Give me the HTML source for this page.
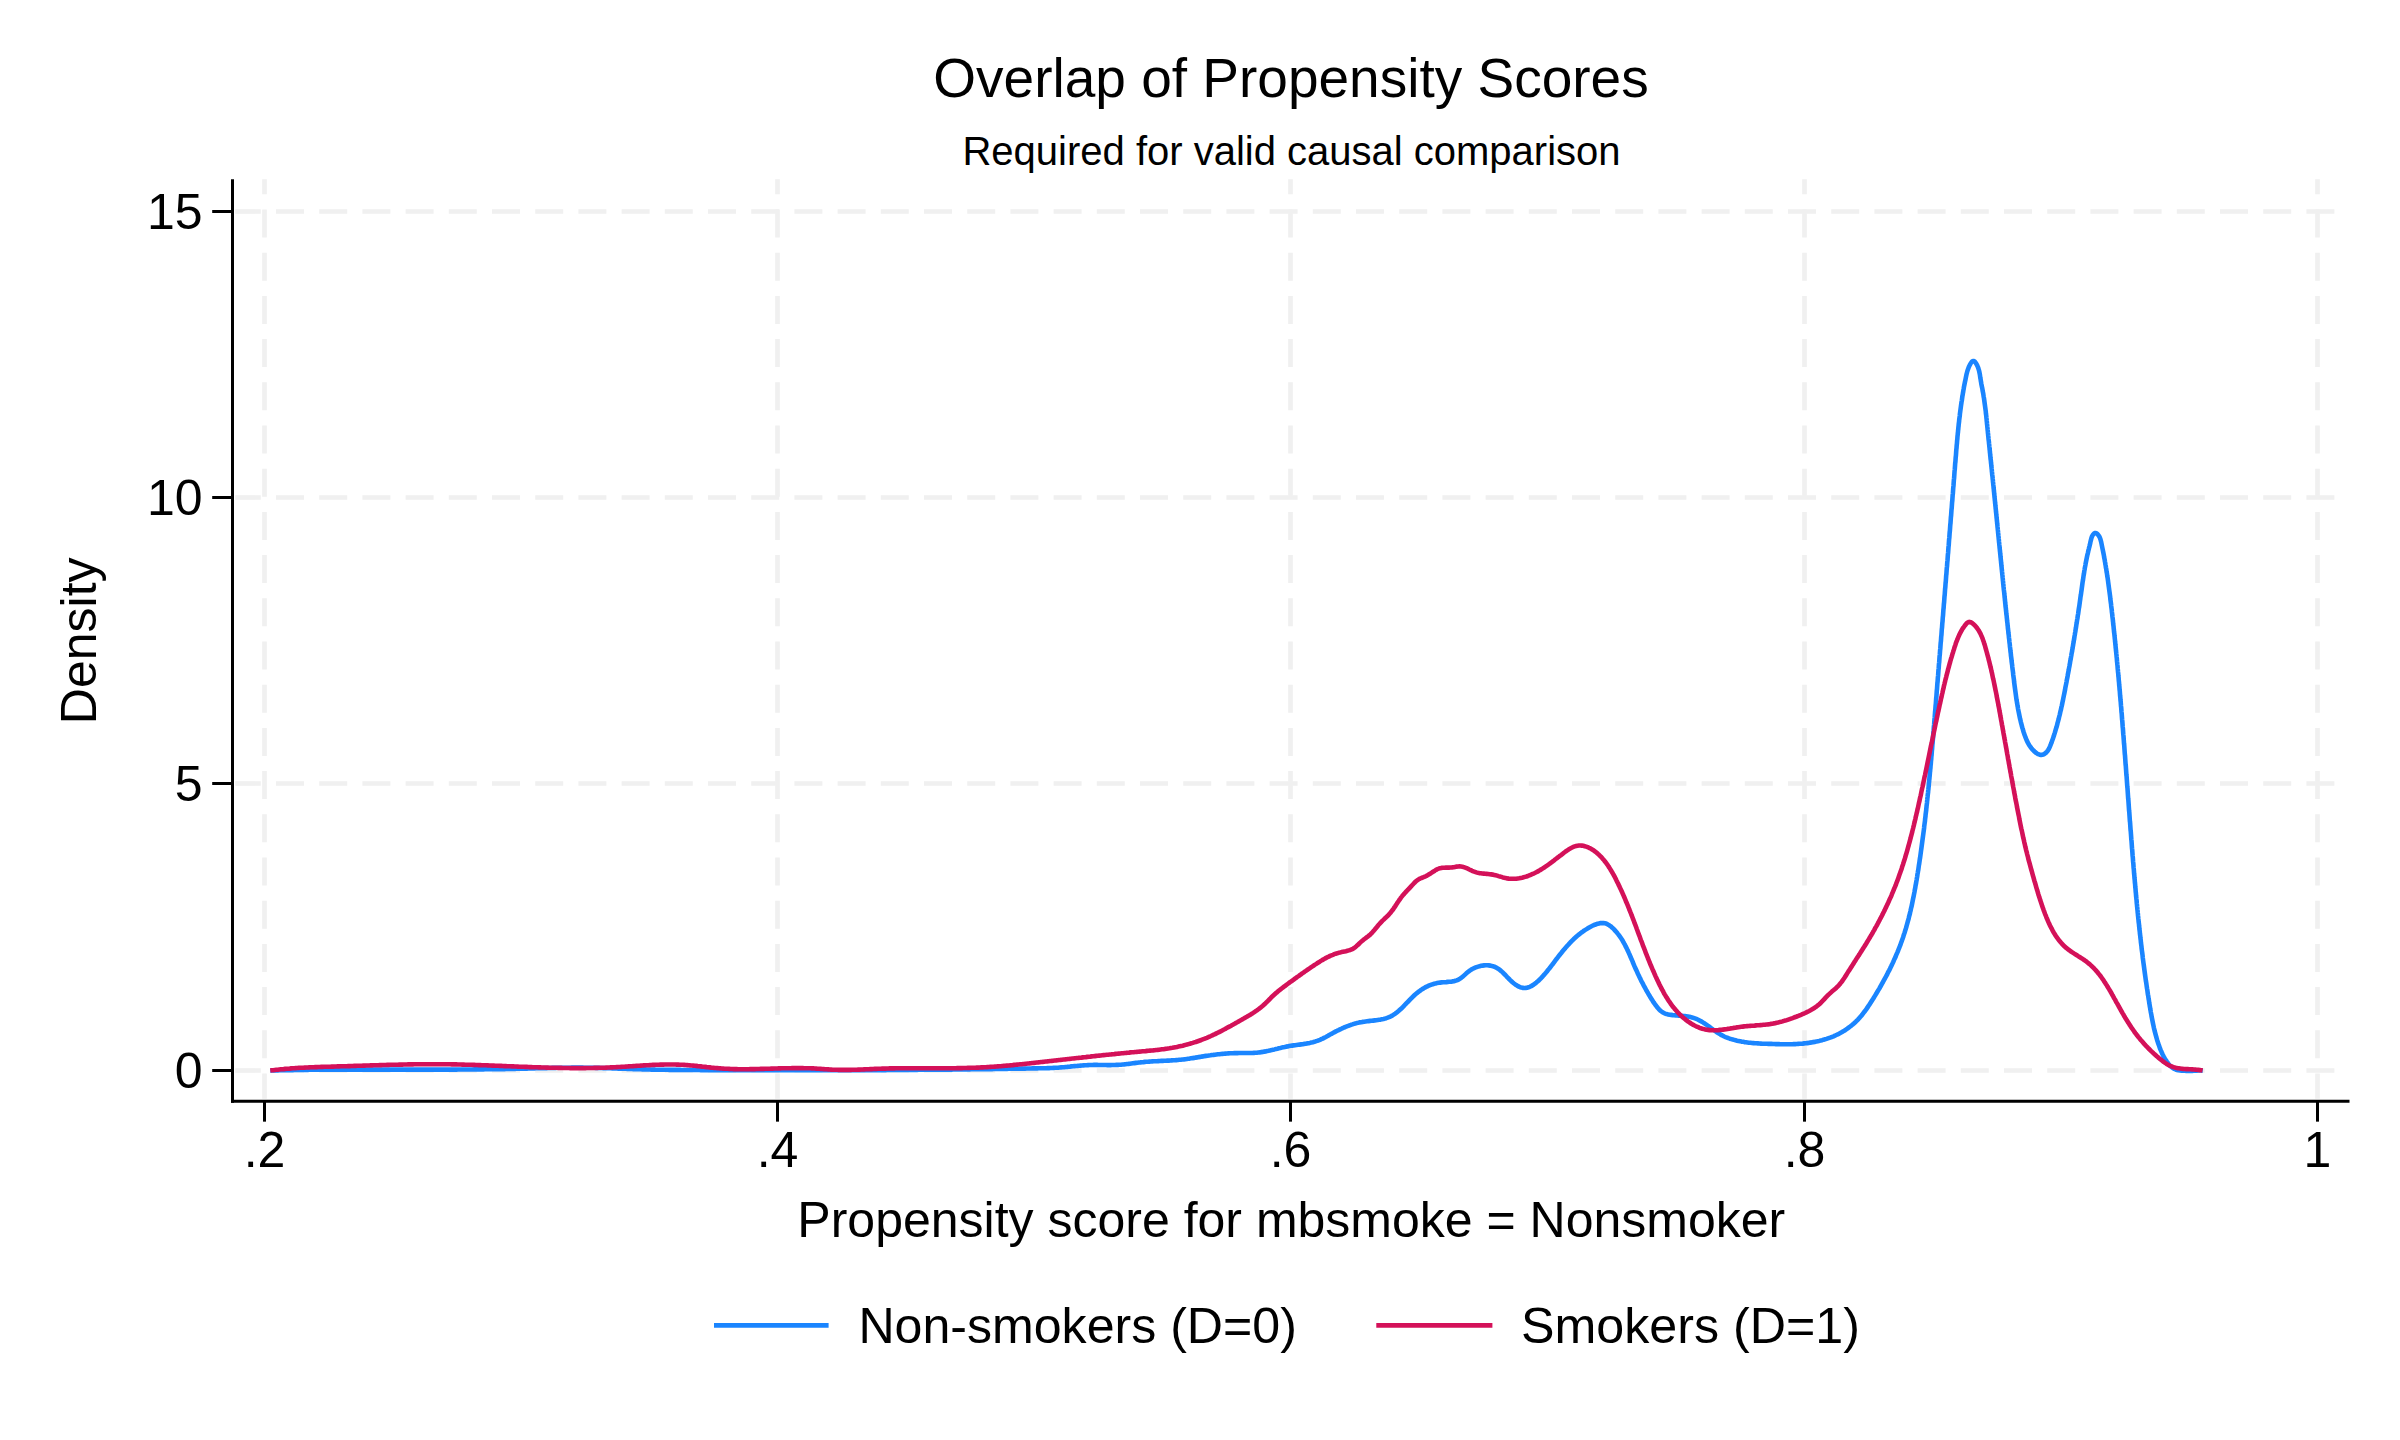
<!DOCTYPE html>
<html lang="en"><head><meta charset="utf-8"><title>Overlap of Propensity Scores</title>
<style>html,body{margin:0;padding:0;background:#fff}svg{display:block}text{font-family:"Liberation Sans",Arial,Helvetica,sans-serif;fill:#000}</style></head><body>
<svg width="2400" height="1440" viewBox="0 0 2400 1440">
<rect width="2400" height="1440" fill="#fff"/>
<g stroke="#f0f0f0" stroke-width="4.7" stroke-dasharray="28 15.2" fill="none">
<path d="M235.2 1070.5 H2349.5" stroke-dashoffset="2.4"/>
<path d="M235.2 783.5 H2349.5" stroke-dashoffset="2.4"/>
<path d="M235.2 497.5 H2349.5" stroke-dashoffset="2.4"/>
<path d="M235.2 211.5 H2349.5" stroke-dashoffset="2.4"/>
<path d="M264.5 1098.8 V179.3" stroke-dashoffset="2.7"/>
<path d="M777.5 1098.8 V179.3" stroke-dashoffset="2.7"/>
<path d="M1290.5 1098.8 V179.3" stroke-dashoffset="2.7"/>
<path d="M1804.5 1098.8 V179.3" stroke-dashoffset="2.7"/>
<path d="M2317.5 1098.8 V179.3" stroke-dashoffset="2.7"/>
</g>
<path d="M270.3 1070.5 L271.8 1070.5 L273.3 1070.5 L274.8 1070.4 L276.3 1070.4 L277.8 1070.4 L279.3 1070.3 L280.8 1070.3 L282.3 1070.3 L283.8 1070.2 L285.3 1070.2 L286.8 1070.2 L288.3 1070.1 L289.8 1070.1 L291.3 1070.1 L292.8 1070.1 L294.3 1070.0 L295.8 1070.0 L297.3 1070.0 L298.8 1070.0 L300.3 1070.0 L301.8 1069.9 L303.3 1069.9 L304.8 1069.9 L306.3 1069.9 L307.8 1069.9 L309.3 1069.8 L310.8 1069.8 L312.3 1069.8 L313.8 1069.8 L315.3 1069.8 L316.8 1069.8 L318.3 1069.8 L319.8 1069.7 L321.3 1069.7 L322.8 1069.7 L324.3 1069.7 L325.8 1069.7 L327.3 1069.7 L328.8 1069.7 L330.3 1069.7 L331.8 1069.7 L333.3 1069.6 L334.8 1069.6 L336.3 1069.6 L337.8 1069.6 L339.3 1069.6 L340.8 1069.6 L342.3 1069.6 L343.8 1069.6 L345.3 1069.6 L346.8 1069.6 L348.3 1069.6 L349.8 1069.6 L351.3 1069.6 L352.8 1069.6 L354.3 1069.6 L355.8 1069.6 L357.3 1069.6 L358.8 1069.6 L360.3 1069.6 L361.8 1069.6 L363.3 1069.6 L364.8 1069.6 L366.3 1069.6 L367.8 1069.6 L369.3 1069.6 L370.8 1069.6 L372.3 1069.6 L373.8 1069.6 L375.3 1069.6 L376.8 1069.6 L378.3 1069.6 L379.8 1069.6 L381.3 1069.6 L382.8 1069.6 L384.4 1069.6 L385.9 1069.6 L387.4 1069.6 L388.9 1069.6 L390.4 1069.6 L391.9 1069.6 L393.4 1069.6 L394.9 1069.6 L396.4 1069.6 L397.9 1069.6 L399.4 1069.6 L400.9 1069.6 L402.4 1069.6 L403.9 1069.6 L405.4 1069.6 L406.9 1069.6 L408.4 1069.6 L409.9 1069.6 L411.4 1069.6 L412.9 1069.6 L414.4 1069.6 L415.9 1069.6 L417.4 1069.6 L418.9 1069.6 L420.4 1069.6 L421.9 1069.6 L423.4 1069.6 L424.9 1069.6 L426.4 1069.6 L427.9 1069.6 L429.4 1069.6 L430.9 1069.6 L432.4 1069.6 L433.9 1069.6 L435.4 1069.6 L436.9 1069.6 L438.4 1069.6 L439.9 1069.6 L441.4 1069.6 L442.9 1069.6 L444.4 1069.6 L445.9 1069.6 L447.4 1069.6 L448.9 1069.6 L450.4 1069.6 L451.9 1069.6 L453.4 1069.6 L454.9 1069.6 L456.4 1069.6 L457.9 1069.5 L459.4 1069.5 L460.9 1069.5 L462.4 1069.5 L463.9 1069.5 L465.4 1069.5 L466.9 1069.5 L468.4 1069.5 L469.9 1069.5 L471.4 1069.5 L472.9 1069.5 L474.4 1069.4 L475.9 1069.4 L477.4 1069.4 L478.9 1069.4 L480.4 1069.4 L481.9 1069.4 L483.4 1069.4 L484.9 1069.3 L486.4 1069.3 L487.9 1069.3 L489.4 1069.3 L490.9 1069.3 L492.4 1069.2 L493.9 1069.2 L495.4 1069.2 L496.9 1069.2 L498.4 1069.2 L499.9 1069.1 L501.4 1069.1 L502.9 1069.1 L504.4 1069.1 L505.9 1069.0 L507.4 1069.0 L508.9 1069.0 L510.4 1068.9 L511.9 1068.9 L513.4 1068.9 L514.9 1068.9 L516.4 1068.8 L517.9 1068.8 L519.4 1068.8 L520.9 1068.7 L522.4 1068.7 L523.9 1068.6 L525.4 1068.6 L526.9 1068.6 L528.4 1068.5 L529.9 1068.5 L531.4 1068.5 L532.9 1068.4 L534.4 1068.4 L535.9 1068.3 L537.4 1068.3 L538.9 1068.3 L540.4 1068.2 L541.9 1068.2 L543.4 1068.1 L544.9 1068.1 L546.4 1068.1 L547.9 1068.0 L549.4 1068.0 L550.9 1068.0 L552.4 1067.9 L553.9 1067.9 L555.4 1067.9 L556.9 1067.8 L558.4 1067.8 L559.9 1067.8 L561.4 1067.8 L562.9 1067.7 L564.4 1067.7 L565.9 1067.7 L567.4 1067.7 L568.9 1067.7 L570.4 1067.7 L571.9 1067.6 L573.4 1067.6 L574.9 1067.6 L576.4 1067.6 L577.9 1067.6 L579.4 1067.6 L580.9 1067.6 L582.4 1067.6 L583.9 1067.7 L585.4 1067.7 L586.9 1067.7 L588.4 1067.7 L589.9 1067.7 L591.4 1067.8 L592.9 1067.8 L594.4 1067.8 L595.9 1067.9 L597.4 1067.9 L598.9 1067.9 L600.4 1068.0 L601.9 1068.0 L603.4 1068.1 L604.9 1068.1 L606.4 1068.2 L607.9 1068.2 L609.4 1068.3 L610.9 1068.3 L612.4 1068.4 L613.9 1068.4 L615.4 1068.5 L616.9 1068.5 L618.4 1068.6 L619.9 1068.6 L621.4 1068.7 L622.9 1068.7 L624.4 1068.8 L625.9 1068.8 L627.4 1068.9 L628.9 1068.9 L630.4 1069.0 L631.9 1069.0 L633.4 1069.1 L634.9 1069.1 L636.4 1069.2 L637.9 1069.2 L639.4 1069.3 L640.9 1069.3 L642.4 1069.4 L643.9 1069.4 L645.4 1069.4 L646.9 1069.5 L648.4 1069.5 L649.9 1069.5 L651.4 1069.6 L652.9 1069.6 L654.4 1069.6 L655.9 1069.7 L657.4 1069.7 L658.9 1069.7 L660.4 1069.7 L661.9 1069.8 L663.4 1069.8 L664.9 1069.8 L666.4 1069.8 L667.9 1069.8 L669.4 1069.9 L670.9 1069.9 L672.4 1069.9 L673.9 1069.9 L675.4 1069.9 L676.9 1069.9 L678.4 1069.9 L679.9 1069.9 L681.4 1070.0 L682.9 1070.0 L684.4 1070.0 L685.9 1070.0 L687.4 1070.0 L688.9 1070.0 L690.4 1070.0 L691.9 1070.0 L693.4 1070.0 L694.9 1070.0 L696.4 1070.0 L697.9 1070.0 L699.4 1070.0 L700.9 1070.1 L702.4 1070.1 L703.9 1070.1 L705.4 1070.1 L707.0 1070.1 L708.5 1070.1 L710.0 1070.1 L711.5 1070.1 L713.0 1070.1 L714.5 1070.1 L716.0 1070.1 L717.5 1070.1 L719.0 1070.1 L720.5 1070.1 L722.0 1070.1 L723.5 1070.1 L725.0 1070.1 L726.5 1070.1 L728.0 1070.1 L729.5 1070.2 L731.0 1070.2 L732.5 1070.2 L734.0 1070.2 L735.5 1070.2 L737.0 1070.2 L738.5 1070.2 L740.0 1070.2 L741.5 1070.2 L743.0 1070.2 L744.5 1070.2 L746.0 1070.2 L747.5 1070.2 L749.0 1070.2 L750.5 1070.2 L752.0 1070.2 L753.5 1070.2 L755.0 1070.2 L756.5 1070.2 L758.0 1070.2 L759.5 1070.2 L761.0 1070.2 L762.5 1070.2 L764.0 1070.2 L765.5 1070.2 L767.0 1070.2 L768.5 1070.2 L770.0 1070.2 L771.5 1070.2 L773.0 1070.2 L774.5 1070.2 L776.0 1070.2 L777.5 1070.3 L779.0 1070.3 L780.5 1070.3 L782.0 1070.3 L783.5 1070.3 L785.0 1070.3 L786.5 1070.3 L788.0 1070.3 L789.5 1070.3 L791.0 1070.3 L792.5 1070.3 L794.0 1070.3 L795.5 1070.3 L797.0 1070.3 L798.5 1070.3 L800.0 1070.3 L801.5 1070.3 L803.0 1070.3 L804.5 1070.3 L806.0 1070.3 L807.5 1070.3 L809.0 1070.3 L810.5 1070.3 L812.0 1070.3 L813.5 1070.3 L815.0 1070.3 L816.5 1070.3 L818.0 1070.3 L819.5 1070.3 L821.0 1070.3 L822.5 1070.2 L824.0 1070.2 L825.5 1070.2 L827.0 1070.2 L828.5 1070.2 L830.0 1070.2 L831.5 1070.2 L833.0 1070.2 L834.5 1070.2 L836.0 1070.2 L837.5 1070.2 L839.0 1070.2 L840.5 1070.2 L842.0 1070.2 L843.5 1070.2 L845.0 1070.2 L846.5 1070.2 L848.0 1070.2 L849.5 1070.2 L851.0 1070.2 L852.5 1070.2 L854.0 1070.2 L855.5 1070.2 L857.0 1070.2 L858.5 1070.2 L860.0 1070.2 L861.5 1070.2 L863.0 1070.2 L864.5 1070.1 L866.0 1070.1 L867.5 1070.1 L869.0 1070.1 L870.5 1070.1 L872.0 1070.1 L873.5 1070.1 L875.0 1070.1 L876.5 1070.1 L878.0 1070.1 L879.5 1070.1 L881.0 1070.1 L882.5 1070.1 L884.0 1070.1 L885.5 1070.1 L887.0 1070.0 L888.5 1070.0 L890.0 1070.0 L891.5 1070.0 L893.0 1070.0 L894.5 1070.0 L896.0 1070.0 L897.5 1070.0 L899.0 1070.0 L900.5 1070.0 L902.0 1070.0 L903.5 1069.9 L905.0 1069.9 L906.5 1069.9 L908.0 1069.9 L909.5 1069.9 L911.0 1069.9 L912.5 1069.9 L914.0 1069.9 L915.6 1069.9 L917.1 1069.9 L918.6 1069.8 L920.1 1069.8 L921.6 1069.8 L923.1 1069.8 L924.6 1069.8 L926.1 1069.8 L927.6 1069.8 L929.1 1069.8 L930.6 1069.7 L932.1 1069.7 L933.6 1069.7 L935.1 1069.7 L936.6 1069.7 L938.1 1069.7 L939.6 1069.7 L941.1 1069.7 L942.6 1069.6 L944.1 1069.6 L945.6 1069.6 L947.1 1069.6 L948.6 1069.6 L950.1 1069.6 L951.6 1069.6 L953.1 1069.5 L954.6 1069.5 L956.1 1069.5 L957.6 1069.5 L959.1 1069.5 L960.6 1069.5 L962.1 1069.4 L963.6 1069.4 L965.1 1069.4 L966.6 1069.4 L968.1 1069.4 L969.6 1069.4 L971.1 1069.3 L972.6 1069.3 L974.1 1069.3 L975.6 1069.3 L977.1 1069.3 L978.6 1069.2 L980.1 1069.2 L981.6 1069.2 L983.1 1069.2 L984.6 1069.2 L986.1 1069.2 L987.6 1069.1 L989.1 1069.1 L990.6 1069.1 L992.1 1069.1 L993.6 1069.0 L995.1 1069.0 L996.6 1069.0 L998.1 1069.0 L999.6 1069.0 L1001.1 1068.9 L1002.6 1068.9 L1004.1 1068.9 L1005.6 1068.9 L1007.1 1068.9 L1008.6 1068.8 L1010.1 1068.8 L1011.6 1068.8 L1013.1 1068.8 L1014.6 1068.7 L1016.1 1068.7 L1017.6 1068.7 L1019.1 1068.7 L1020.6 1068.6 L1022.1 1068.6 L1023.6 1068.6 L1025.1 1068.6 L1026.6 1068.5 L1028.1 1068.5 L1029.6 1068.5 L1031.1 1068.5 L1032.6 1068.4 L1034.1 1068.4 L1035.6 1068.4 L1037.1 1068.4 L1038.6 1068.3 L1040.1 1068.3 L1041.6 1068.3 L1043.1 1068.2 L1044.6 1068.2 L1046.1 1068.2 L1047.6 1068.1 L1049.1 1068.1 L1050.6 1068.0 L1052.1 1068.0 L1053.6 1067.9 L1055.1 1067.8 L1056.6 1067.8 L1058.1 1067.7 L1059.6 1067.5 L1061.1 1067.4 L1062.6 1067.3 L1064.1 1067.2 L1065.6 1067.0 L1067.1 1066.9 L1068.6 1066.7 L1070.0 1066.6 L1071.5 1066.4 L1073.0 1066.3 L1074.5 1066.1 L1076.0 1066.0 L1077.5 1065.9 L1079.0 1065.7 L1080.5 1065.6 L1082.0 1065.5 L1083.5 1065.4 L1085.0 1065.3 L1086.5 1065.2 L1088.0 1065.1 L1089.5 1065.0 L1091.0 1065.0 L1092.5 1065.0 L1094.0 1064.9 L1095.5 1064.9 L1097.0 1064.9 L1098.5 1065.0 L1100.0 1065.0 L1101.5 1065.0 L1103.0 1065.0 L1104.5 1065.0 L1106.0 1065.0 L1107.5 1065.1 L1109.0 1065.1 L1110.5 1065.1 L1112.0 1065.0 L1113.5 1065.0 L1115.0 1065.0 L1116.5 1064.9 L1118.0 1064.9 L1119.5 1064.8 L1121.0 1064.7 L1122.5 1064.5 L1124.0 1064.4 L1125.5 1064.2 L1127.0 1064.0 L1128.5 1063.9 L1129.9 1063.7 L1131.4 1063.5 L1132.9 1063.3 L1134.4 1063.1 L1135.9 1062.9 L1137.4 1062.7 L1138.9 1062.5 L1140.4 1062.4 L1141.9 1062.2 L1143.4 1062.1 L1144.9 1061.9 L1146.4 1061.8 L1147.8 1061.7 L1149.3 1061.6 L1150.8 1061.5 L1152.3 1061.4 L1153.8 1061.3 L1155.3 1061.2 L1156.8 1061.2 L1158.3 1061.1 L1159.8 1061.0 L1161.3 1060.9 L1162.8 1060.9 L1164.3 1060.8 L1165.8 1060.7 L1167.3 1060.6 L1168.8 1060.6 L1170.3 1060.5 L1171.8 1060.4 L1173.3 1060.3 L1174.8 1060.2 L1176.3 1060.1 L1177.8 1060.0 L1179.3 1059.8 L1180.8 1059.7 L1182.3 1059.5 L1183.8 1059.4 L1185.3 1059.2 L1186.8 1059.0 L1188.2 1058.8 L1189.7 1058.6 L1191.2 1058.3 L1192.7 1058.1 L1194.2 1057.9 L1195.6 1057.6 L1197.1 1057.4 L1198.6 1057.1 L1200.1 1056.9 L1201.6 1056.6 L1203.0 1056.4 L1204.5 1056.1 L1206.0 1055.9 L1207.5 1055.7 L1209.0 1055.5 L1210.5 1055.3 L1211.9 1055.0 L1213.4 1054.9 L1214.9 1054.7 L1216.4 1054.5 L1217.9 1054.3 L1219.4 1054.2 L1220.9 1054.0 L1222.4 1053.9 L1223.9 1053.8 L1225.4 1053.6 L1226.9 1053.5 L1228.4 1053.4 L1229.9 1053.3 L1231.4 1053.3 L1232.9 1053.2 L1234.4 1053.1 L1235.9 1053.1 L1237.4 1053.1 L1238.9 1053.0 L1240.4 1053.0 L1241.9 1053.0 L1243.4 1053.0 L1244.9 1053.0 L1246.4 1053.0 L1247.9 1053.0 L1249.4 1053.0 L1250.9 1053.0 L1252.4 1053.0 L1253.9 1052.9 L1255.4 1052.8 L1256.8 1052.7 L1258.3 1052.5 L1259.8 1052.4 L1261.3 1052.1 L1262.8 1051.9 L1264.2 1051.6 L1265.7 1051.4 L1267.2 1051.1 L1268.6 1050.8 L1270.1 1050.4 L1271.6 1050.1 L1273.0 1049.7 L1274.5 1049.4 L1276.0 1049.0 L1277.4 1048.7 L1278.9 1048.3 L1280.3 1048.0 L1281.8 1047.6 L1283.3 1047.3 L1284.8 1047.0 L1286.2 1046.6 L1287.7 1046.4 L1289.2 1046.1 L1290.7 1045.8 L1292.1 1045.6 L1293.6 1045.4 L1295.1 1045.2 L1296.6 1045.0 L1298.1 1044.8 L1299.6 1044.6 L1301.1 1044.4 L1302.6 1044.2 L1304.0 1043.9 L1305.5 1043.7 L1307.0 1043.4 L1308.5 1043.2 L1309.9 1042.9 L1311.4 1042.5 L1312.9 1042.2 L1314.3 1041.8 L1315.7 1041.3 L1317.2 1040.9 L1318.6 1040.3 L1320.0 1039.8 L1321.3 1039.2 L1322.7 1038.6 L1324.0 1037.9 L1325.4 1037.2 L1326.7 1036.5 L1328.0 1035.8 L1329.3 1035.0 L1330.6 1034.3 L1332.0 1033.6 L1333.3 1032.8 L1334.6 1032.1 L1335.9 1031.4 L1337.3 1030.7 L1338.6 1030.1 L1340.0 1029.4 L1341.3 1028.8 L1342.7 1028.1 L1344.0 1027.5 L1345.4 1027.0 L1346.8 1026.4 L1348.2 1025.9 L1349.6 1025.3 L1351.0 1024.8 L1352.4 1024.4 L1353.8 1023.9 L1355.3 1023.5 L1356.7 1023.1 L1358.2 1022.8 L1359.6 1022.4 L1361.1 1022.2 L1362.6 1021.9 L1364.1 1021.7 L1365.6 1021.5 L1367.1 1021.3 L1368.6 1021.1 L1370.1 1020.9 L1371.7 1020.8 L1373.2 1020.6 L1374.7 1020.4 L1376.2 1020.2 L1377.7 1020.0 L1379.2 1019.8 L1380.6 1019.6 L1382.1 1019.3 L1383.5 1019.0 L1384.9 1018.6 L1386.3 1018.2 L1387.7 1017.7 L1389.0 1017.2 L1390.4 1016.6 L1391.6 1015.9 L1392.9 1015.2 L1394.1 1014.4 L1395.3 1013.6 L1396.5 1012.7 L1397.7 1011.7 L1398.8 1010.8 L1399.9 1009.8 L1401.1 1008.7 L1402.2 1007.7 L1403.3 1006.6 L1404.3 1005.5 L1405.4 1004.3 L1406.5 1003.2 L1407.6 1002.1 L1408.7 1001.0 L1409.7 999.9 L1410.8 998.7 L1411.9 997.7 L1413.0 996.6 L1414.1 995.5 L1415.2 994.5 L1416.4 993.5 L1417.5 992.6 L1418.7 991.7 L1419.9 990.8 L1421.1 989.9 L1422.3 989.1 L1423.6 988.4 L1424.8 987.6 L1426.1 986.9 L1427.4 986.3 L1428.7 985.7 L1430.1 985.1 L1431.4 984.6 L1432.8 984.2 L1434.2 983.8 L1435.7 983.4 L1437.1 983.1 L1438.6 982.8 L1440.1 982.6 L1441.6 982.4 L1443.2 982.3 L1444.7 982.2 L1446.3 982.1 L1447.8 981.9 L1449.4 981.8 L1450.9 981.7 L1452.4 981.4 L1453.9 981.2 L1455.3 980.8 L1456.7 980.4 L1458.0 979.8 L1459.3 979.2 L1460.5 978.4 L1461.6 977.5 L1462.8 976.6 L1463.9 975.6 L1465.0 974.6 L1466.1 973.6 L1467.3 972.6 L1468.5 971.6 L1469.7 970.7 L1471.0 969.8 L1472.3 969.0 L1473.7 968.3 L1475.1 967.7 L1476.6 967.1 L1478.1 966.6 L1479.6 966.2 L1481.1 965.8 L1482.6 965.6 L1484.2 965.4 L1485.7 965.3 L1487.2 965.3 L1488.7 965.4 L1490.2 965.6 L1491.6 965.9 L1493.0 966.3 L1494.4 966.7 L1495.7 967.3 L1496.9 968.0 L1498.1 968.7 L1499.3 969.5 L1500.4 970.4 L1501.6 971.4 L1502.7 972.4 L1503.7 973.5 L1504.8 974.5 L1505.9 975.6 L1506.9 976.8 L1508.0 977.9 L1509.1 979.0 L1510.2 980.1 L1511.4 981.2 L1512.5 982.2 L1513.7 983.2 L1515.0 984.2 L1516.2 985.1 L1517.6 985.9 L1518.9 986.6 L1520.2 987.2 L1521.6 987.6 L1523.0 987.9 L1524.4 988.0 L1525.7 987.9 L1527.1 987.7 L1528.5 987.3 L1529.8 986.8 L1531.2 986.1 L1532.5 985.4 L1533.8 984.5 L1535.0 983.6 L1536.3 982.6 L1537.5 981.6 L1538.7 980.5 L1539.8 979.4 L1540.9 978.3 L1542.0 977.2 L1543.0 976.0 L1544.0 974.9 L1545.0 973.8 L1546.0 972.6 L1546.9 971.5 L1547.8 970.3 L1548.8 969.1 L1549.7 968.0 L1550.6 966.8 L1551.5 965.6 L1552.4 964.5 L1553.3 963.3 L1554.2 962.1 L1555.1 960.9 L1556.0 959.7 L1556.9 958.5 L1557.8 957.4 L1558.7 956.2 L1559.6 955.0 L1560.6 953.8 L1561.5 952.7 L1562.4 951.5 L1563.4 950.3 L1564.3 949.2 L1565.3 948.1 L1566.3 946.9 L1567.3 945.8 L1568.3 944.7 L1569.3 943.6 L1570.3 942.5 L1571.4 941.4 L1572.4 940.4 L1573.5 939.3 L1574.6 938.3 L1575.7 937.3 L1576.8 936.3 L1578.0 935.3 L1579.1 934.4 L1580.3 933.4 L1581.5 932.5 L1582.8 931.6 L1584.0 930.7 L1585.3 929.9 L1586.6 929.1 L1587.9 928.3 L1589.2 927.5 L1590.6 926.7 L1592.0 926.0 L1593.4 925.3 L1594.8 924.7 L1596.3 924.2 L1597.7 923.7 L1599.1 923.4 L1600.6 923.1 L1602.0 923.0 L1603.4 923.1 L1604.8 923.3 L1606.1 923.6 L1607.4 924.2 L1608.7 924.9 L1610.0 925.8 L1611.2 926.7 L1612.3 927.8 L1613.5 928.8 L1614.5 929.9 L1615.6 931.1 L1616.6 932.2 L1617.5 933.4 L1618.5 934.6 L1619.4 935.8 L1620.2 937.0 L1621.1 938.3 L1621.9 939.5 L1622.7 940.8 L1623.4 942.1 L1624.1 943.4 L1624.9 944.7 L1625.5 946.1 L1626.2 947.4 L1626.9 948.8 L1627.5 950.1 L1628.2 951.5 L1628.8 952.9 L1629.4 954.2 L1630.0 955.6 L1630.6 957.0 L1631.2 958.4 L1631.8 959.8 L1632.4 961.1 L1632.9 962.5 L1633.5 963.9 L1634.1 965.3 L1634.7 966.7 L1635.3 968.0 L1635.9 969.4 L1636.6 970.8 L1637.2 972.1 L1637.8 973.5 L1638.4 974.8 L1639.1 976.2 L1639.7 977.5 L1640.4 978.9 L1641.0 980.2 L1641.7 981.6 L1642.4 982.9 L1643.1 984.2 L1643.8 985.6 L1644.5 986.9 L1645.2 988.2 L1645.9 989.5 L1646.6 990.8 L1647.4 992.1 L1648.1 993.4 L1648.9 994.7 L1649.7 996.0 L1650.4 997.3 L1651.2 998.6 L1652.1 999.9 L1652.9 1001.2 L1653.7 1002.5 L1654.6 1003.7 L1655.5 1005.0 L1656.4 1006.2 L1657.3 1007.4 L1658.3 1008.5 L1659.3 1009.6 L1660.3 1010.6 L1661.5 1011.5 L1662.6 1012.3 L1663.9 1013.0 L1665.2 1013.6 L1666.6 1014.1 L1668.1 1014.4 L1669.6 1014.7 L1671.1 1014.9 L1672.7 1015.1 L1674.2 1015.2 L1675.8 1015.4 L1677.3 1015.5 L1678.8 1015.6 L1680.3 1015.7 L1681.9 1015.8 L1683.4 1016.0 L1684.8 1016.1 L1686.3 1016.3 L1687.8 1016.5 L1689.2 1016.8 L1690.7 1017.1 L1692.1 1017.5 L1693.5 1017.9 L1694.9 1018.4 L1696.3 1018.9 L1697.7 1019.5 L1699.0 1020.2 L1700.3 1020.9 L1701.7 1021.6 L1702.9 1022.4 L1704.2 1023.2 L1705.5 1024.1 L1706.7 1024.9 L1708.0 1025.8 L1709.2 1026.7 L1710.4 1027.6 L1711.6 1028.5 L1712.8 1029.4 L1714.0 1030.2 L1715.3 1031.1 L1716.5 1032.0 L1717.7 1032.8 L1719.0 1033.6 L1720.3 1034.4 L1721.6 1035.1 L1722.9 1035.8 L1724.2 1036.5 L1725.6 1037.1 L1727.0 1037.6 L1728.4 1038.2 L1729.8 1038.7 L1731.3 1039.1 L1732.7 1039.5 L1734.1 1039.9 L1735.6 1040.3 L1737.1 1040.7 L1738.5 1041.0 L1740.0 1041.3 L1741.5 1041.6 L1743.0 1041.8 L1744.4 1042.1 L1745.9 1042.3 L1747.4 1042.5 L1748.9 1042.7 L1750.4 1042.8 L1751.9 1043.0 L1753.4 1043.1 L1754.9 1043.2 L1756.4 1043.3 L1757.9 1043.4 L1759.4 1043.5 L1760.9 1043.6 L1762.4 1043.7 L1763.9 1043.7 L1765.4 1043.8 L1766.9 1043.8 L1768.4 1043.9 L1769.9 1043.9 L1771.4 1043.9 L1772.9 1044.0 L1774.4 1044.0 L1775.9 1044.1 L1777.4 1044.1 L1778.9 1044.1 L1780.4 1044.2 L1781.9 1044.2 L1783.3 1044.2 L1784.8 1044.2 L1786.3 1044.2 L1787.8 1044.2 L1789.3 1044.2 L1790.8 1044.2 L1792.3 1044.2 L1793.7 1044.1 L1795.2 1044.1 L1796.7 1044.0 L1798.2 1043.9 L1799.7 1043.8 L1801.2 1043.7 L1802.7 1043.6 L1804.2 1043.4 L1805.7 1043.3 L1807.2 1043.1 L1808.7 1042.9 L1810.2 1042.6 L1811.7 1042.4 L1813.2 1042.1 L1814.7 1041.9 L1816.2 1041.6 L1817.7 1041.2 L1819.2 1040.9 L1820.7 1040.5 L1822.2 1040.2 L1823.6 1039.7 L1825.1 1039.3 L1826.5 1038.9 L1827.9 1038.4 L1829.4 1037.9 L1830.8 1037.4 L1832.2 1036.8 L1833.6 1036.3 L1834.9 1035.7 L1836.3 1035.0 L1837.7 1034.4 L1839.0 1033.7 L1840.3 1033.0 L1841.6 1032.3 L1842.9 1031.5 L1844.2 1030.8 L1845.4 1030.0 L1846.6 1029.1 L1847.9 1028.3 L1849.0 1027.4 L1850.2 1026.5 L1851.4 1025.6 L1852.5 1024.6 L1853.6 1023.7 L1854.7 1022.7 L1855.8 1021.7 L1856.9 1020.6 L1857.9 1019.6 L1858.9 1018.5 L1859.9 1017.4 L1860.9 1016.2 L1861.9 1015.1 L1862.8 1013.9 L1863.7 1012.7 L1864.6 1011.5 L1865.5 1010.3 L1866.4 1009.1 L1867.2 1007.9 L1868.1 1006.6 L1868.9 1005.3 L1869.8 1004.1 L1870.6 1002.8 L1871.4 1001.5 L1872.2 1000.2 L1873.0 999.0 L1873.8 997.7 L1874.6 996.4 L1875.4 995.1 L1876.2 993.8 L1876.9 992.5 L1877.7 991.2 L1878.5 989.9 L1879.3 988.6 L1880.0 987.3 L1880.8 986.0 L1881.5 984.7 L1882.2 983.4 L1883.0 982.0 L1883.7 980.7 L1884.4 979.4 L1885.1 978.1 L1885.9 976.7 L1886.6 975.4 L1887.3 974.1 L1887.9 972.7 L1888.6 971.4 L1889.3 970.1 L1890.0 968.7 L1890.6 967.4 L1891.3 966.0 L1891.9 964.7 L1892.6 963.3 L1893.2 962.0 L1893.8 960.6 L1894.4 959.2 L1895.1 957.9 L1895.7 956.5 L1896.2 955.1 L1896.8 953.7 L1897.4 952.4 L1898.0 951.0 L1898.5 949.6 L1899.1 948.2 L1899.6 946.8 L1900.2 945.4 L1900.7 944.0 L1901.2 942.6 L1901.7 941.2 L1902.2 939.8 L1902.7 938.4 L1903.2 937.0 L1903.6 935.6 L1904.1 934.1 L1904.6 932.7 L1905.0 931.3 L1905.4 929.9 L1905.9 928.4 L1906.3 927.0 L1906.7 925.5 L1907.1 924.1 L1907.5 922.7 L1907.9 921.2 L1908.3 919.8 L1908.7 918.3 L1909.0 916.9 L1909.4 915.4 L1909.8 914.0 L1910.1 912.5 L1910.5 911.0 L1910.8 909.6 L1911.1 908.1 L1911.5 906.7 L1911.8 905.2 L1912.1 903.7 L1912.4 902.3 L1912.7 900.8 L1913.0 899.3 L1913.3 897.8 L1913.6 896.4 L1913.9 894.9 L1914.2 893.4 L1914.5 891.9 L1914.7 890.5 L1915.0 889.0 L1915.3 887.5 L1915.5 886.0 L1915.8 884.5 L1916.1 883.0 L1916.3 881.6 L1916.6 880.1 L1916.8 878.6 L1917.1 877.1 L1917.3 875.6 L1917.5 874.1 L1917.8 872.6 L1918.0 871.2 L1918.3 869.7 L1918.5 868.2 L1918.7 866.7 L1918.9 865.2 L1919.2 863.7 L1919.4 862.2 L1919.6 860.8 L1919.8 859.3 L1920.1 857.8 L1920.3 856.3 L1920.5 854.8 L1920.7 853.3 L1920.9 851.8 L1921.1 850.3 L1921.3 848.9 L1921.5 847.4 L1921.7 845.9 L1921.9 844.4 L1922.1 842.9 L1922.3 841.4 L1922.5 839.9 L1922.7 838.4 L1922.9 836.9 L1923.1 835.5 L1923.3 834.0 L1923.5 832.5 L1923.7 831.0 L1923.9 829.5 L1924.1 828.0 L1924.2 826.5 L1924.4 825.0 L1924.6 823.5 L1924.8 822.1 L1925.0 820.6 L1925.1 819.1 L1925.3 817.6 L1925.5 816.1 L1925.6 814.6 L1925.8 813.1 L1926.0 811.6 L1926.2 810.1 L1926.3 808.6 L1926.5 807.1 L1926.6 805.7 L1926.8 804.2 L1927.0 802.7 L1927.1 801.2 L1927.3 799.7 L1927.4 798.2 L1927.6 796.7 L1927.7 795.2 L1927.9 793.7 L1928.1 792.2 L1928.2 790.7 L1928.4 789.2 L1928.5 787.8 L1928.7 786.3 L1928.8 784.8 L1928.9 783.3 L1929.1 781.8 L1929.2 780.3 L1929.4 778.8 L1929.5 777.3 L1929.7 775.8 L1929.8 774.3 L1929.9 772.8 L1930.1 771.3 L1930.2 769.8 L1930.4 768.3 L1930.5 766.9 L1930.6 765.4 L1930.8 763.9 L1930.9 762.4 L1931.0 760.9 L1931.2 759.4 L1931.3 757.9 L1931.4 756.4 L1931.6 754.9 L1931.7 753.4 L1931.8 751.9 L1931.9 750.4 L1932.1 748.9 L1932.2 747.4 L1932.3 745.9 L1932.4 744.4 L1932.6 742.9 L1932.7 741.5 L1932.8 740.0 L1933.0 738.5 L1933.1 737.0 L1933.2 735.5 L1933.3 734.0 L1933.4 732.5 L1933.6 731.0 L1933.7 729.5 L1933.8 728.0 L1933.9 726.5 L1934.1 725.0 L1934.2 723.5 L1934.3 722.0 L1934.4 720.5 L1934.5 719.0 L1934.7 717.5 L1934.8 716.0 L1934.9 714.5 L1935.0 713.1 L1935.1 711.6 L1935.3 710.1 L1935.4 708.6 L1935.5 707.1 L1935.6 705.6 L1935.8 704.1 L1935.9 702.6 L1936.0 701.1 L1936.1 699.6 L1936.2 698.1 L1936.4 696.6 L1936.5 695.1 L1936.6 693.6 L1936.7 692.1 L1936.8 690.6 L1937.0 689.1 L1937.1 687.6 L1937.2 686.1 L1937.3 684.6 L1937.4 683.1 L1937.6 681.6 L1937.7 680.1 L1937.8 678.7 L1937.9 677.2 L1938.1 675.7 L1938.2 674.2 L1938.3 672.7 L1938.4 671.2 L1938.5 669.7 L1938.7 668.2 L1938.8 666.7 L1938.9 665.2 L1939.0 663.7 L1939.2 662.2 L1939.3 660.7 L1939.4 659.2 L1939.5 657.7 L1939.6 656.2 L1939.8 654.7 L1939.9 653.2 L1940.0 651.7 L1940.1 650.2 L1940.3 648.7 L1940.4 647.2 L1940.5 645.7 L1940.6 644.2 L1940.7 642.8 L1940.9 641.3 L1941.0 639.8 L1941.1 638.3 L1941.2 636.8 L1941.4 635.3 L1941.5 633.8 L1941.6 632.3 L1941.7 630.8 L1941.8 629.3 L1942.0 627.8 L1942.1 626.3 L1942.2 624.8 L1942.3 623.3 L1942.5 621.8 L1942.6 620.3 L1942.7 618.8 L1942.8 617.3 L1943.0 615.8 L1943.1 614.3 L1943.2 612.8 L1943.3 611.3 L1943.4 609.8 L1943.6 608.3 L1943.7 606.8 L1943.8 605.3 L1943.9 603.9 L1944.1 602.4 L1944.2 600.9 L1944.3 599.4 L1944.4 597.9 L1944.5 596.4 L1944.7 594.9 L1944.8 593.4 L1944.9 591.9 L1945.0 590.4 L1945.1 588.9 L1945.3 587.4 L1945.4 585.9 L1945.5 584.4 L1945.6 582.9 L1945.8 581.4 L1945.9 579.9 L1946.0 578.4 L1946.1 576.9 L1946.2 575.4 L1946.4 573.9 L1946.5 572.4 L1946.6 570.9 L1946.7 569.4 L1946.8 568.0 L1947.0 566.5 L1947.1 565.0 L1947.2 563.5 L1947.3 562.0 L1947.5 560.5 L1947.6 559.0 L1947.7 557.5 L1947.8 556.0 L1947.9 554.5 L1948.1 553.0 L1948.2 551.5 L1948.3 550.0 L1948.4 548.5 L1948.5 547.0 L1948.7 545.5 L1948.8 544.0 L1948.9 542.5 L1949.0 541.0 L1949.1 539.5 L1949.3 538.0 L1949.4 536.5 L1949.5 535.0 L1949.6 533.5 L1949.7 532.1 L1949.9 530.6 L1950.0 529.1 L1950.1 527.6 L1950.2 526.1 L1950.3 524.6 L1950.5 523.1 L1950.6 521.6 L1950.7 520.1 L1950.8 518.6 L1950.9 517.1 L1951.1 515.6 L1951.2 514.1 L1951.3 512.6 L1951.4 511.1 L1951.5 509.6 L1951.7 508.1 L1951.8 506.6 L1951.9 505.1 L1952.0 503.6 L1952.1 502.1 L1952.3 500.6 L1952.4 499.1 L1952.5 497.6 L1952.6 496.2 L1952.7 494.7 L1952.9 493.2 L1953.0 491.7 L1953.1 490.2 L1953.2 488.7 L1953.3 487.2 L1953.5 485.7 L1953.6 484.2 L1953.7 482.7 L1953.8 481.2 L1953.9 479.7 L1954.1 478.2 L1954.2 476.7 L1954.3 475.2 L1954.4 473.7 L1954.5 472.2 L1954.6 470.7 L1954.8 469.2 L1954.9 467.7 L1955.0 466.2 L1955.1 464.7 L1955.2 463.2 L1955.4 461.8 L1955.5 460.3 L1955.6 458.8 L1955.7 457.3 L1955.9 455.8 L1956.0 454.3 L1956.1 452.8 L1956.2 451.3 L1956.3 449.8 L1956.5 448.3 L1956.6 446.8 L1956.7 445.3 L1956.9 443.8 L1957.0 442.3 L1957.1 440.8 L1957.3 439.3 L1957.4 437.8 L1957.5 436.3 L1957.7 434.8 L1957.8 433.4 L1958.0 431.9 L1958.1 430.4 L1958.3 428.9 L1958.4 427.4 L1958.6 425.9 L1958.7 424.4 L1958.9 422.9 L1959.1 421.4 L1959.2 419.9 L1959.4 418.4 L1959.6 417.0 L1959.8 415.5 L1959.9 414.0 L1960.1 412.5 L1960.3 411.0 L1960.5 409.5 L1960.7 408.0 L1960.9 406.5 L1961.1 405.0 L1961.3 403.6 L1961.5 402.1 L1961.8 400.6 L1962.0 399.1 L1962.2 397.6 L1962.4 396.1 L1962.7 394.7 L1962.9 393.2 L1963.2 391.7 L1963.4 390.2 L1963.7 388.7 L1963.9 387.3 L1964.2 385.8 L1964.5 384.3 L1964.8 382.8 L1965.1 381.3 L1965.4 379.9 L1965.7 378.4 L1966.0 376.9 L1966.3 375.4 L1966.6 374.0 L1967.0 372.5 L1967.4 371.0 L1967.9 369.6 L1968.4 368.2 L1969.0 366.7 L1969.6 365.3 L1970.4 363.9 L1971.2 362.6 L1972.1 361.5 L1973.0 361.0 L1974.0 361.1 L1975.0 361.9 L1975.9 363.1 L1976.7 364.5 L1977.4 365.9 L1978.0 367.3 L1978.5 368.8 L1978.9 370.2 L1979.3 371.7 L1979.6 373.2 L1979.9 374.7 L1980.1 376.3 L1980.3 377.8 L1980.6 379.3 L1980.8 380.8 L1981.1 382.3 L1981.3 383.7 L1981.6 385.2 L1981.9 386.7 L1982.2 388.1 L1982.5 389.6 L1982.7 391.1 L1983.0 392.5 L1983.3 394.0 L1983.5 395.5 L1983.7 396.9 L1984.0 398.4 L1984.2 399.9 L1984.4 401.4 L1984.6 402.9 L1984.8 404.3 L1985.0 405.8 L1985.2 407.3 L1985.4 408.8 L1985.6 410.3 L1985.8 411.8 L1985.9 413.3 L1986.1 414.8 L1986.3 416.3 L1986.4 417.7 L1986.6 419.2 L1986.7 420.7 L1986.9 422.2 L1987.0 423.7 L1987.2 425.2 L1987.3 426.7 L1987.5 428.2 L1987.6 429.7 L1987.8 431.2 L1987.9 432.7 L1988.1 434.2 L1988.2 435.7 L1988.4 437.2 L1988.5 438.7 L1988.7 440.2 L1988.9 441.7 L1989.0 443.2 L1989.2 444.7 L1989.3 446.2 L1989.5 447.7 L1989.6 449.1 L1989.8 450.6 L1989.9 452.1 L1990.1 453.6 L1990.2 455.1 L1990.4 456.6 L1990.5 458.1 L1990.7 459.6 L1990.9 461.1 L1991.0 462.6 L1991.2 464.1 L1991.3 465.6 L1991.5 467.1 L1991.6 468.5 L1991.8 470.0 L1991.9 471.5 L1992.1 473.0 L1992.2 474.5 L1992.4 476.0 L1992.6 477.5 L1992.7 479.0 L1992.9 480.5 L1993.0 482.0 L1993.2 483.5 L1993.3 485.0 L1993.5 486.4 L1993.6 487.9 L1993.8 489.4 L1993.9 490.9 L1994.1 492.4 L1994.2 493.9 L1994.4 495.4 L1994.5 496.9 L1994.7 498.4 L1994.8 499.9 L1995.0 501.4 L1995.1 502.9 L1995.3 504.4 L1995.4 505.8 L1995.6 507.3 L1995.7 508.8 L1995.9 510.3 L1996.0 511.8 L1996.2 513.3 L1996.3 514.8 L1996.5 516.3 L1996.6 517.8 L1996.8 519.3 L1996.9 520.8 L1997.1 522.3 L1997.2 523.8 L1997.4 525.3 L1997.5 526.7 L1997.7 528.2 L1997.8 529.7 L1998.0 531.2 L1998.1 532.7 L1998.3 534.2 L1998.4 535.7 L1998.6 537.2 L1998.7 538.7 L1998.9 540.2 L1999.0 541.7 L1999.2 543.2 L1999.3 544.7 L1999.5 546.2 L1999.6 547.7 L1999.8 549.1 L1999.9 550.6 L2000.1 552.1 L2000.2 553.6 L2000.4 555.1 L2000.5 556.6 L2000.7 558.1 L2000.8 559.6 L2001.0 561.1 L2001.1 562.6 L2001.3 564.1 L2001.4 565.6 L2001.6 567.1 L2001.7 568.6 L2001.9 570.1 L2002.0 571.5 L2002.2 573.0 L2002.3 574.5 L2002.5 576.0 L2002.6 577.5 L2002.8 579.0 L2002.9 580.5 L2003.1 582.0 L2003.2 583.5 L2003.4 585.0 L2003.5 586.5 L2003.7 588.0 L2003.8 589.5 L2004.0 591.0 L2004.2 592.5 L2004.3 593.9 L2004.5 595.4 L2004.6 596.9 L2004.8 598.4 L2004.9 599.9 L2005.1 601.4 L2005.2 602.9 L2005.4 604.4 L2005.5 605.9 L2005.7 607.4 L2005.9 608.9 L2006.0 610.4 L2006.2 611.9 L2006.3 613.4 L2006.5 614.8 L2006.7 616.3 L2006.8 617.8 L2007.0 619.3 L2007.1 620.8 L2007.3 622.3 L2007.5 623.8 L2007.6 625.3 L2007.8 626.8 L2007.9 628.3 L2008.1 629.8 L2008.3 631.3 L2008.4 632.8 L2008.6 634.2 L2008.8 635.7 L2008.9 637.2 L2009.1 638.7 L2009.3 640.2 L2009.4 641.7 L2009.6 643.2 L2009.8 644.7 L2009.9 646.2 L2010.1 647.7 L2010.3 649.2 L2010.4 650.6 L2010.6 652.1 L2010.8 653.6 L2010.9 655.1 L2011.1 656.6 L2011.3 658.1 L2011.5 659.6 L2011.6 661.1 L2011.8 662.6 L2012.0 664.1 L2012.2 665.5 L2012.3 667.0 L2012.5 668.5 L2012.7 670.0 L2012.9 671.5 L2013.1 673.0 L2013.2 674.5 L2013.4 676.0 L2013.6 677.5 L2013.8 678.9 L2014.0 680.4 L2014.1 681.9 L2014.3 683.4 L2014.5 684.9 L2014.7 686.4 L2014.9 687.9 L2015.1 689.4 L2015.3 690.8 L2015.5 692.3 L2015.7 693.8 L2015.9 695.3 L2016.1 696.8 L2016.3 698.3 L2016.5 699.8 L2016.8 701.2 L2017.0 702.7 L2017.3 704.2 L2017.5 705.7 L2017.8 707.1 L2018.0 708.6 L2018.3 710.1 L2018.6 711.6 L2018.9 713.0 L2019.2 714.5 L2019.5 716.0 L2019.8 717.5 L2020.1 718.9 L2020.5 720.4 L2020.8 721.8 L2021.2 723.3 L2021.6 724.8 L2021.9 726.2 L2022.3 727.7 L2022.8 729.1 L2023.2 730.6 L2023.6 732.0 L2024.1 733.5 L2024.6 734.9 L2025.1 736.3 L2025.6 737.7 L2026.2 739.1 L2026.8 740.5 L2027.4 741.9 L2028.1 743.2 L2028.8 744.5 L2029.6 745.7 L2030.5 747.0 L2031.4 748.2 L2032.3 749.3 L2033.4 750.4 L2034.5 751.5 L2035.6 752.5 L2036.9 753.4 L2038.2 754.2 L2039.6 754.7 L2041.0 754.9 L2042.4 754.7 L2043.8 754.3 L2045.0 753.5 L2046.1 752.6 L2047.1 751.5 L2048.0 750.3 L2048.8 749.0 L2049.5 747.5 L2050.1 746.1 L2050.7 744.6 L2051.3 743.2 L2051.8 741.7 L2052.3 740.3 L2052.8 738.9 L2053.3 737.5 L2053.8 736.1 L2054.2 734.6 L2054.7 733.2 L2055.1 731.8 L2055.5 730.4 L2055.9 729.0 L2056.4 727.6 L2056.8 726.1 L2057.2 724.7 L2057.5 723.2 L2057.9 721.8 L2058.3 720.4 L2058.7 718.9 L2059.0 717.5 L2059.4 716.0 L2059.8 714.5 L2060.1 713.1 L2060.4 711.6 L2060.8 710.2 L2061.1 708.7 L2061.4 707.2 L2061.8 705.8 L2062.1 704.3 L2062.4 702.8 L2062.7 701.3 L2063.0 699.9 L2063.3 698.4 L2063.6 696.9 L2063.9 695.4 L2064.2 694.0 L2064.5 692.5 L2064.8 691.0 L2065.1 689.5 L2065.3 688.0 L2065.6 686.6 L2065.9 685.1 L2066.2 683.6 L2066.5 682.1 L2066.7 680.7 L2067.0 679.2 L2067.3 677.7 L2067.6 676.2 L2067.8 674.8 L2068.1 673.3 L2068.4 671.8 L2068.7 670.3 L2068.9 668.9 L2069.2 667.4 L2069.5 665.9 L2069.7 664.4 L2070.0 663.0 L2070.2 661.5 L2070.5 660.0 L2070.8 658.5 L2071.0 657.1 L2071.3 655.6 L2071.5 654.1 L2071.8 652.6 L2072.1 651.2 L2072.3 649.7 L2072.6 648.2 L2072.8 646.7 L2073.1 645.3 L2073.3 643.8 L2073.6 642.3 L2073.8 640.8 L2074.1 639.3 L2074.3 637.9 L2074.5 636.4 L2074.8 634.9 L2075.0 633.4 L2075.3 631.9 L2075.5 630.4 L2075.7 629.0 L2076.0 627.5 L2076.2 626.0 L2076.4 624.5 L2076.7 623.0 L2076.9 621.5 L2077.1 620.1 L2077.4 618.6 L2077.6 617.1 L2077.8 615.6 L2078.1 614.1 L2078.3 612.6 L2078.5 611.1 L2078.7 609.7 L2078.9 608.2 L2079.2 606.7 L2079.4 605.2 L2079.6 603.7 L2079.8 602.2 L2080.0 600.7 L2080.2 599.3 L2080.4 597.8 L2080.6 596.3 L2080.9 594.8 L2081.1 593.3 L2081.3 591.8 L2081.5 590.4 L2081.7 588.9 L2081.9 587.4 L2082.1 585.9 L2082.3 584.4 L2082.5 582.9 L2082.7 581.5 L2083.0 580.0 L2083.2 578.5 L2083.4 577.0 L2083.6 575.5 L2083.9 574.0 L2084.1 572.6 L2084.3 571.1 L2084.6 569.6 L2084.8 568.1 L2085.1 566.6 L2085.4 565.1 L2085.6 563.7 L2085.9 562.2 L2086.2 560.7 L2086.5 559.2 L2086.8 557.7 L2087.1 556.2 L2087.4 554.8 L2087.8 553.3 L2088.1 551.9 L2088.4 550.5 L2088.8 549.1 L2089.1 547.7 L2089.5 546.3 L2089.8 544.8 L2090.2 543.3 L2090.5 541.7 L2090.9 540.1 L2091.3 538.5 L2091.8 536.9 L2092.5 535.5 L2093.3 534.3 L2094.2 533.4 L2095.2 533.0 L2096.3 533.3 L2097.4 534.0 L2098.4 535.2 L2099.2 536.4 L2099.9 537.8 L2100.4 539.2 L2100.8 540.6 L2101.2 542.1 L2101.5 543.6 L2101.8 545.1 L2102.1 546.6 L2102.4 548.1 L2102.7 549.5 L2103.0 551.0 L2103.3 552.5 L2103.6 554.0 L2103.9 555.5 L2104.1 557.0 L2104.4 558.4 L2104.7 559.9 L2104.9 561.4 L2105.2 562.9 L2105.4 564.4 L2105.7 565.9 L2105.9 567.4 L2106.2 568.8 L2106.4 570.3 L2106.6 571.8 L2106.9 573.3 L2107.1 574.8 L2107.3 576.3 L2107.6 577.8 L2107.8 579.3 L2108.0 580.7 L2108.2 582.2 L2108.4 583.7 L2108.6 585.2 L2108.8 586.7 L2109.0 588.2 L2109.2 589.7 L2109.4 591.2 L2109.6 592.6 L2109.8 594.1 L2110.0 595.6 L2110.2 597.1 L2110.3 598.6 L2110.5 600.1 L2110.7 601.6 L2110.9 603.1 L2111.1 604.5 L2111.2 606.0 L2111.4 607.5 L2111.6 609.0 L2111.8 610.5 L2111.9 612.0 L2112.1 613.5 L2112.3 615.0 L2112.4 616.5 L2112.6 618.0 L2112.8 619.4 L2112.9 620.9 L2113.1 622.4 L2113.2 623.9 L2113.4 625.4 L2113.6 626.9 L2113.7 628.4 L2113.9 629.9 L2114.0 631.4 L2114.2 632.9 L2114.4 634.4 L2114.5 635.8 L2114.7 637.3 L2114.8 638.8 L2115.0 640.3 L2115.1 641.8 L2115.3 643.3 L2115.4 644.8 L2115.6 646.3 L2115.7 647.8 L2115.9 649.3 L2116.0 650.8 L2116.2 652.3 L2116.3 653.7 L2116.5 655.2 L2116.6 656.7 L2116.8 658.2 L2116.9 659.7 L2117.0 661.2 L2117.2 662.7 L2117.3 664.2 L2117.5 665.7 L2117.6 667.2 L2117.7 668.7 L2117.9 670.2 L2118.0 671.7 L2118.2 673.2 L2118.3 674.7 L2118.4 676.1 L2118.6 677.6 L2118.7 679.1 L2118.8 680.6 L2119.0 682.1 L2119.1 683.6 L2119.2 685.1 L2119.4 686.6 L2119.5 688.1 L2119.6 689.6 L2119.8 691.1 L2119.9 692.6 L2120.0 694.1 L2120.1 695.6 L2120.3 697.1 L2120.4 698.6 L2120.5 700.1 L2120.7 701.6 L2120.8 703.1 L2120.9 704.5 L2121.0 706.0 L2121.2 707.5 L2121.3 709.0 L2121.4 710.5 L2121.5 712.0 L2121.7 713.5 L2121.8 715.0 L2121.9 716.5 L2122.0 718.0 L2122.1 719.5 L2122.3 721.0 L2122.4 722.5 L2122.5 724.0 L2122.6 725.5 L2122.7 727.0 L2122.9 728.5 L2123.0 730.0 L2123.1 731.5 L2123.2 733.0 L2123.3 734.5 L2123.5 736.0 L2123.6 737.5 L2123.7 739.0 L2123.8 740.4 L2123.9 741.9 L2124.0 743.4 L2124.2 744.9 L2124.3 746.4 L2124.4 747.9 L2124.5 749.4 L2124.6 750.9 L2124.7 752.4 L2124.8 753.9 L2125.0 755.4 L2125.1 756.9 L2125.2 758.4 L2125.3 759.9 L2125.4 761.4 L2125.5 762.9 L2125.6 764.4 L2125.8 765.9 L2125.9 767.4 L2126.0 768.9 L2126.1 770.4 L2126.2 771.9 L2126.3 773.4 L2126.4 774.9 L2126.6 776.4 L2126.7 777.9 L2126.8 779.4 L2126.9 780.9 L2127.0 782.4 L2127.1 783.9 L2127.2 785.4 L2127.3 786.8 L2127.5 788.3 L2127.6 789.8 L2127.7 791.3 L2127.8 792.8 L2127.9 794.3 L2128.0 795.8 L2128.1 797.3 L2128.2 798.8 L2128.4 800.3 L2128.5 801.8 L2128.6 803.3 L2128.7 804.8 L2128.8 806.3 L2128.9 807.8 L2129.0 809.3 L2129.1 810.8 L2129.3 812.3 L2129.4 813.8 L2129.5 815.3 L2129.6 816.8 L2129.7 818.3 L2129.8 819.8 L2129.9 821.3 L2130.1 822.8 L2130.2 824.3 L2130.3 825.8 L2130.4 827.3 L2130.5 828.8 L2130.6 830.3 L2130.8 831.8 L2130.9 833.3 L2131.0 834.7 L2131.1 836.2 L2131.2 837.7 L2131.3 839.2 L2131.5 840.7 L2131.6 842.2 L2131.7 843.7 L2131.8 845.2 L2131.9 846.7 L2132.0 848.2 L2132.2 849.7 L2132.3 851.2 L2132.4 852.7 L2132.5 854.2 L2132.6 855.7 L2132.8 857.2 L2132.9 858.7 L2133.0 860.2 L2133.1 861.7 L2133.3 863.2 L2133.4 864.7 L2133.5 866.2 L2133.6 867.7 L2133.8 869.2 L2133.9 870.7 L2134.0 872.1 L2134.1 873.6 L2134.3 875.1 L2134.4 876.6 L2134.5 878.1 L2134.7 879.6 L2134.8 881.1 L2134.9 882.6 L2135.1 884.1 L2135.2 885.6 L2135.3 887.1 L2135.5 888.6 L2135.6 890.1 L2135.7 891.6 L2135.9 893.1 L2136.0 894.6 L2136.1 896.1 L2136.3 897.6 L2136.4 899.0 L2136.6 900.5 L2136.7 902.0 L2136.8 903.5 L2137.0 905.0 L2137.1 906.5 L2137.3 908.0 L2137.4 909.5 L2137.6 911.0 L2137.7 912.5 L2137.9 914.0 L2138.0 915.5 L2138.2 917.0 L2138.3 918.5 L2138.5 919.9 L2138.6 921.4 L2138.8 922.9 L2139.0 924.4 L2139.1 925.9 L2139.3 927.4 L2139.4 928.9 L2139.6 930.4 L2139.8 931.9 L2139.9 933.4 L2140.1 934.9 L2140.3 936.4 L2140.4 937.8 L2140.6 939.3 L2140.8 940.8 L2140.9 942.3 L2141.1 943.8 L2141.3 945.3 L2141.5 946.8 L2141.6 948.3 L2141.8 949.8 L2142.0 951.3 L2142.2 952.7 L2142.4 954.2 L2142.6 955.7 L2142.7 957.2 L2142.9 958.7 L2143.1 960.2 L2143.3 961.7 L2143.5 963.2 L2143.7 964.6 L2143.9 966.1 L2144.1 967.6 L2144.3 969.1 L2144.5 970.6 L2144.7 972.1 L2144.9 973.6 L2145.1 975.1 L2145.3 976.5 L2145.5 978.0 L2145.7 979.5 L2145.9 981.0 L2146.2 982.5 L2146.4 984.0 L2146.6 985.5 L2146.8 986.9 L2147.0 988.4 L2147.3 989.9 L2147.5 991.4 L2147.7 992.9 L2147.9 994.4 L2148.2 995.8 L2148.4 997.3 L2148.6 998.8 L2148.9 1000.3 L2149.1 1001.8 L2149.3 1003.3 L2149.6 1004.7 L2149.8 1006.2 L2150.1 1007.7 L2150.3 1009.2 L2150.6 1010.7 L2150.8 1012.1 L2151.1 1013.6 L2151.4 1015.1 L2151.6 1016.6 L2151.9 1018.0 L2152.2 1019.5 L2152.5 1021.0 L2152.8 1022.5 L2153.1 1023.9 L2153.4 1025.4 L2153.7 1026.9 L2154.0 1028.3 L2154.4 1029.8 L2154.7 1031.2 L2155.1 1032.7 L2155.5 1034.2 L2155.9 1035.6 L2156.3 1037.0 L2156.7 1038.5 L2157.1 1039.9 L2157.6 1041.4 L2158.0 1042.8 L2158.5 1044.2 L2159.0 1045.6 L2159.5 1047.0 L2160.0 1048.5 L2160.6 1049.9 L2161.2 1051.2 L2161.8 1052.6 L2162.4 1054.0 L2163.1 1055.3 L2163.7 1056.7 L2164.5 1058.0 L2165.2 1059.3 L2166.1 1060.5 L2166.9 1061.8 L2167.8 1063.0 L2168.7 1064.2 L2169.7 1065.3 L2170.8 1066.4 L2171.9 1067.3 L2173.1 1068.2 L2174.4 1068.9 L2175.7 1069.5 L2177.1 1070.0 L2178.6 1070.3 L2180.2 1070.5 L2181.7 1070.7 L2183.2 1070.8 L2184.7 1070.8 L2186.2 1070.9 L2187.7 1070.9 L2189.2 1070.9 L2190.7 1070.9 L2192.2 1070.9 L2193.7 1070.8 L2195.2 1070.7 L2196.7 1070.6 L2198.2 1070.5 L2199.7 1070.5 L2201.2 1070.5 L2202.7 1070.6" fill="none" stroke="#1a85ff" stroke-width="4.6" stroke-linejoin="round" stroke-linecap="butt"/>
<path d="M270.3 1070.5 L271.8 1070.3 L273.3 1070.2 L274.8 1070.0 L276.3 1069.8 L277.8 1069.7 L279.3 1069.5 L280.8 1069.3 L282.3 1069.2 L283.7 1069.1 L285.2 1068.9 L286.7 1068.8 L288.2 1068.7 L289.7 1068.6 L291.2 1068.4 L292.7 1068.3 L294.2 1068.2 L295.7 1068.1 L297.2 1068.0 L298.7 1067.9 L300.2 1067.8 L301.7 1067.8 L303.2 1067.7 L304.7 1067.6 L306.2 1067.5 L307.7 1067.5 L309.2 1067.4 L310.7 1067.3 L312.2 1067.3 L313.7 1067.2 L315.2 1067.1 L316.7 1067.1 L318.2 1067.0 L319.7 1067.0 L321.2 1066.9 L322.7 1066.9 L324.2 1066.8 L325.7 1066.8 L327.2 1066.7 L328.7 1066.7 L330.2 1066.7 L331.7 1066.6 L333.2 1066.6 L334.7 1066.5 L336.2 1066.5 L337.7 1066.4 L339.2 1066.4 L340.7 1066.3 L342.2 1066.3 L343.7 1066.3 L345.2 1066.2 L346.7 1066.2 L348.2 1066.1 L349.7 1066.1 L351.2 1066.0 L352.7 1066.0 L354.2 1065.9 L355.7 1065.9 L357.2 1065.8 L358.7 1065.8 L360.2 1065.7 L361.7 1065.7 L363.2 1065.6 L364.7 1065.6 L366.2 1065.5 L367.7 1065.5 L369.2 1065.5 L370.7 1065.4 L372.2 1065.4 L373.7 1065.3 L375.2 1065.3 L376.7 1065.2 L378.2 1065.2 L379.7 1065.1 L381.2 1065.1 L382.7 1065.0 L384.2 1065.0 L385.7 1065.0 L387.2 1064.9 L388.7 1064.9 L390.2 1064.8 L391.7 1064.8 L393.2 1064.8 L394.7 1064.7 L396.2 1064.7 L397.7 1064.7 L399.2 1064.6 L400.7 1064.6 L402.2 1064.6 L403.7 1064.5 L405.2 1064.5 L406.7 1064.5 L408.2 1064.4 L409.8 1064.4 L411.3 1064.4 L412.8 1064.4 L414.3 1064.3 L415.8 1064.3 L417.3 1064.3 L418.8 1064.3 L420.3 1064.3 L421.8 1064.2 L423.3 1064.2 L424.8 1064.2 L426.3 1064.2 L427.8 1064.2 L429.3 1064.2 L430.8 1064.2 L432.3 1064.2 L433.8 1064.2 L435.3 1064.2 L436.8 1064.2 L438.3 1064.2 L439.8 1064.2 L441.3 1064.2 L442.8 1064.2 L444.3 1064.2 L445.8 1064.3 L447.3 1064.3 L448.8 1064.3 L450.3 1064.3 L451.8 1064.4 L453.3 1064.4 L454.8 1064.4 L456.3 1064.4 L457.8 1064.5 L459.3 1064.5 L460.8 1064.5 L462.3 1064.6 L463.8 1064.6 L465.3 1064.7 L466.8 1064.7 L468.3 1064.7 L469.8 1064.8 L471.3 1064.8 L472.8 1064.9 L474.3 1064.9 L475.8 1065.0 L477.3 1065.0 L478.8 1065.1 L480.3 1065.1 L481.8 1065.2 L483.3 1065.2 L484.8 1065.3 L486.3 1065.3 L487.8 1065.4 L489.3 1065.5 L490.8 1065.5 L492.3 1065.6 L493.8 1065.6 L495.3 1065.7 L496.8 1065.8 L498.3 1065.8 L499.8 1065.9 L501.3 1065.9 L502.8 1066.0 L504.3 1066.1 L505.8 1066.1 L507.3 1066.2 L508.8 1066.2 L510.3 1066.3 L511.8 1066.4 L513.3 1066.4 L514.8 1066.5 L516.3 1066.5 L517.8 1066.6 L519.3 1066.7 L520.8 1066.7 L522.3 1066.8 L523.8 1066.8 L525.3 1066.9 L526.8 1066.9 L528.3 1067.0 L529.8 1067.1 L531.3 1067.1 L532.8 1067.2 L534.3 1067.2 L535.8 1067.3 L537.3 1067.3 L538.8 1067.4 L540.3 1067.4 L541.8 1067.5 L543.3 1067.5 L544.8 1067.5 L546.3 1067.6 L547.8 1067.6 L549.3 1067.7 L550.8 1067.7 L552.3 1067.7 L553.8 1067.8 L555.3 1067.8 L556.8 1067.8 L558.3 1067.9 L559.8 1067.9 L561.3 1067.9 L562.8 1068.0 L564.3 1068.0 L565.8 1068.0 L567.3 1068.0 L568.8 1068.0 L570.3 1068.1 L571.8 1068.1 L573.3 1068.1 L574.8 1068.1 L576.3 1068.1 L577.8 1068.1 L579.3 1068.1 L580.8 1068.1 L582.3 1068.1 L583.8 1068.1 L585.3 1068.1 L586.8 1068.0 L588.3 1068.0 L589.8 1068.0 L591.3 1068.0 L592.8 1068.0 L594.3 1067.9 L595.8 1067.9 L597.3 1067.9 L598.8 1067.8 L600.3 1067.8 L601.8 1067.8 L603.3 1067.7 L604.8 1067.7 L606.3 1067.6 L607.8 1067.5 L609.3 1067.5 L610.8 1067.4 L612.3 1067.4 L613.8 1067.3 L615.3 1067.2 L616.8 1067.1 L618.3 1067.0 L619.8 1067.0 L621.3 1066.9 L622.8 1066.8 L624.3 1066.7 L625.8 1066.6 L627.3 1066.5 L628.8 1066.4 L630.3 1066.3 L631.8 1066.2 L633.3 1066.1 L634.8 1066.0 L636.3 1065.9 L637.8 1065.8 L639.3 1065.7 L640.8 1065.6 L642.3 1065.5 L643.8 1065.4 L645.3 1065.3 L646.8 1065.2 L648.3 1065.2 L649.8 1065.1 L651.3 1065.0 L652.8 1064.9 L654.3 1064.9 L655.8 1064.8 L657.3 1064.7 L658.8 1064.7 L660.3 1064.6 L661.8 1064.6 L663.3 1064.6 L664.8 1064.5 L666.3 1064.5 L667.8 1064.5 L669.3 1064.5 L670.8 1064.5 L672.3 1064.5 L673.8 1064.5 L675.3 1064.5 L676.8 1064.6 L678.3 1064.6 L679.8 1064.7 L681.3 1064.7 L682.8 1064.8 L684.3 1064.9 L685.8 1065.0 L687.3 1065.1 L688.8 1065.2 L690.3 1065.4 L691.7 1065.5 L693.2 1065.6 L694.7 1065.8 L696.2 1065.9 L697.7 1066.1 L699.2 1066.2 L700.7 1066.4 L702.2 1066.6 L703.7 1066.7 L705.2 1066.9 L706.7 1067.1 L708.2 1067.2 L709.7 1067.4 L711.2 1067.6 L712.7 1067.7 L714.2 1067.9 L715.7 1068.0 L717.2 1068.1 L718.7 1068.3 L720.2 1068.4 L721.7 1068.5 L723.2 1068.6 L724.7 1068.7 L726.2 1068.8 L727.7 1068.8 L729.2 1068.9 L730.7 1069.0 L732.2 1069.0 L733.7 1069.1 L735.2 1069.1 L736.6 1069.1 L738.1 1069.2 L739.6 1069.2 L741.1 1069.2 L742.6 1069.2 L744.1 1069.2 L745.6 1069.2 L747.1 1069.2 L748.7 1069.2 L750.2 1069.1 L751.7 1069.1 L753.2 1069.1 L754.7 1069.1 L756.2 1069.0 L757.7 1069.0 L759.2 1069.0 L760.7 1068.9 L762.2 1068.9 L763.7 1068.9 L765.2 1068.8 L766.7 1068.8 L768.2 1068.7 L769.7 1068.7 L771.2 1068.6 L772.7 1068.6 L774.2 1068.5 L775.7 1068.5 L777.2 1068.5 L778.7 1068.4 L780.2 1068.4 L781.7 1068.3 L783.2 1068.3 L784.7 1068.3 L786.2 1068.2 L787.7 1068.2 L789.2 1068.2 L790.7 1068.2 L792.2 1068.1 L793.7 1068.1 L795.2 1068.1 L796.7 1068.1 L798.2 1068.1 L799.7 1068.1 L801.2 1068.1 L802.7 1068.1 L804.2 1068.2 L805.7 1068.2 L807.2 1068.2 L808.7 1068.3 L810.2 1068.3 L811.7 1068.4 L813.2 1068.4 L814.7 1068.5 L816.2 1068.6 L817.7 1068.7 L819.2 1068.8 L820.7 1068.9 L822.2 1069.0 L823.7 1069.1 L825.2 1069.2 L826.7 1069.3 L828.2 1069.4 L829.7 1069.5 L831.2 1069.6 L832.7 1069.7 L834.2 1069.7 L835.7 1069.8 L837.2 1069.8 L838.7 1069.9 L840.2 1069.9 L841.7 1069.9 L843.2 1069.9 L844.7 1069.9 L846.2 1069.9 L847.7 1069.9 L849.2 1069.9 L850.7 1069.9 L852.2 1069.8 L853.7 1069.8 L855.2 1069.7 L856.7 1069.7 L858.2 1069.6 L859.7 1069.6 L861.2 1069.5 L862.7 1069.5 L864.2 1069.4 L865.7 1069.3 L867.2 1069.3 L868.7 1069.2 L870.2 1069.1 L871.7 1069.1 L873.2 1069.0 L874.7 1068.9 L876.2 1068.9 L877.7 1068.8 L879.2 1068.8 L880.7 1068.7 L882.2 1068.6 L883.7 1068.6 L885.2 1068.6 L886.7 1068.5 L888.2 1068.5 L889.7 1068.4 L891.2 1068.4 L892.7 1068.4 L894.3 1068.4 L895.8 1068.3 L897.3 1068.3 L898.8 1068.3 L900.3 1068.3 L901.8 1068.3 L903.3 1068.3 L904.8 1068.2 L906.3 1068.2 L907.8 1068.2 L909.3 1068.2 L910.8 1068.2 L912.3 1068.2 L913.8 1068.2 L915.3 1068.2 L916.8 1068.2 L918.3 1068.2 L919.8 1068.2 L921.3 1068.2 L922.8 1068.2 L924.3 1068.2 L925.8 1068.2 L927.3 1068.2 L928.8 1068.2 L930.3 1068.2 L931.8 1068.2 L933.3 1068.2 L934.8 1068.2 L936.3 1068.2 L937.8 1068.2 L939.3 1068.2 L940.8 1068.2 L942.3 1068.2 L943.8 1068.2 L945.3 1068.2 L946.8 1068.2 L948.3 1068.2 L949.8 1068.2 L951.3 1068.2 L952.8 1068.2 L954.3 1068.2 L955.8 1068.2 L957.3 1068.1 L958.8 1068.1 L960.3 1068.1 L961.8 1068.1 L963.3 1068.0 L964.8 1068.0 L966.3 1068.0 L967.8 1067.9 L969.3 1067.9 L970.8 1067.8 L972.3 1067.8 L973.8 1067.7 L975.3 1067.7 L976.8 1067.6 L978.3 1067.6 L979.8 1067.5 L981.3 1067.4 L982.8 1067.4 L984.3 1067.3 L985.8 1067.2 L987.3 1067.1 L988.8 1067.0 L990.3 1066.9 L991.8 1066.8 L993.3 1066.7 L994.8 1066.6 L996.3 1066.5 L997.8 1066.4 L999.3 1066.3 L1000.8 1066.2 L1002.3 1066.0 L1003.8 1065.9 L1005.3 1065.8 L1006.8 1065.6 L1008.3 1065.5 L1009.8 1065.4 L1011.2 1065.2 L1012.7 1065.1 L1014.2 1064.9 L1015.7 1064.8 L1017.2 1064.6 L1018.7 1064.5 L1020.2 1064.3 L1021.7 1064.2 L1023.2 1064.0 L1024.7 1063.9 L1026.2 1063.7 L1027.7 1063.5 L1029.2 1063.4 L1030.7 1063.2 L1032.2 1063.0 L1033.7 1062.9 L1035.2 1062.7 L1036.6 1062.5 L1038.1 1062.4 L1039.6 1062.2 L1041.1 1062.0 L1042.6 1061.9 L1044.1 1061.7 L1045.6 1061.5 L1047.1 1061.4 L1048.6 1061.2 L1050.1 1061.0 L1051.6 1060.9 L1053.1 1060.7 L1054.6 1060.5 L1056.0 1060.4 L1057.5 1060.2 L1059.0 1060.0 L1060.5 1059.9 L1062.0 1059.7 L1063.5 1059.5 L1065.0 1059.4 L1066.5 1059.2 L1068.0 1059.0 L1069.5 1058.9 L1070.9 1058.7 L1072.4 1058.5 L1073.9 1058.4 L1075.4 1058.2 L1076.9 1058.0 L1078.4 1057.9 L1079.9 1057.7 L1081.4 1057.6 L1082.9 1057.4 L1084.4 1057.2 L1085.9 1057.1 L1087.3 1056.9 L1088.8 1056.7 L1090.3 1056.6 L1091.8 1056.4 L1093.3 1056.3 L1094.8 1056.1 L1096.3 1055.9 L1097.8 1055.8 L1099.3 1055.6 L1100.8 1055.5 L1102.3 1055.3 L1103.7 1055.1 L1105.2 1055.0 L1106.7 1054.8 L1108.2 1054.7 L1109.7 1054.5 L1111.2 1054.4 L1112.7 1054.2 L1114.2 1054.1 L1115.7 1053.9 L1117.2 1053.8 L1118.7 1053.6 L1120.2 1053.5 L1121.7 1053.3 L1123.2 1053.2 L1124.7 1053.0 L1126.1 1052.9 L1127.6 1052.7 L1129.1 1052.6 L1130.6 1052.4 L1132.1 1052.3 L1133.6 1052.2 L1135.1 1052.0 L1136.6 1051.9 L1138.1 1051.7 L1139.6 1051.6 L1141.1 1051.5 L1142.6 1051.3 L1144.1 1051.2 L1145.6 1051.1 L1147.1 1050.9 L1148.6 1050.8 L1150.1 1050.6 L1151.6 1050.5 L1153.1 1050.4 L1154.6 1050.2 L1156.1 1050.0 L1157.6 1049.9 L1159.1 1049.7 L1160.6 1049.5 L1162.0 1049.3 L1163.5 1049.2 L1165.0 1048.9 L1166.5 1048.7 L1168.0 1048.5 L1169.5 1048.3 L1171.0 1048.0 L1172.4 1047.8 L1173.9 1047.5 L1175.4 1047.2 L1176.9 1047.0 L1178.3 1046.6 L1179.8 1046.3 L1181.2 1046.0 L1182.7 1045.7 L1184.2 1045.3 L1185.6 1044.9 L1187.1 1044.5 L1188.5 1044.1 L1189.9 1043.7 L1191.4 1043.3 L1192.8 1042.9 L1194.2 1042.4 L1195.7 1042.0 L1197.1 1041.5 L1198.5 1041.0 L1199.9 1040.5 L1201.3 1040.0 L1202.7 1039.4 L1204.1 1038.9 L1205.5 1038.3 L1206.9 1037.8 L1208.3 1037.2 L1209.6 1036.6 L1211.0 1036.0 L1212.4 1035.3 L1213.7 1034.7 L1215.1 1034.1 L1216.4 1033.4 L1217.8 1032.7 L1219.1 1032.1 L1220.5 1031.4 L1221.8 1030.7 L1223.1 1030.0 L1224.5 1029.3 L1225.8 1028.6 L1227.1 1027.8 L1228.4 1027.1 L1229.8 1026.4 L1231.1 1025.7 L1232.4 1024.9 L1233.7 1024.2 L1235.0 1023.5 L1236.3 1022.7 L1237.7 1022.0 L1239.0 1021.2 L1240.3 1020.5 L1241.6 1019.8 L1242.9 1019.0 L1244.2 1018.3 L1245.5 1017.5 L1246.8 1016.8 L1248.1 1016.0 L1249.4 1015.3 L1250.7 1014.5 L1251.9 1013.7 L1253.2 1012.9 L1254.4 1012.1 L1255.7 1011.2 L1256.9 1010.4 L1258.1 1009.5 L1259.3 1008.6 L1260.5 1007.7 L1261.6 1006.8 L1262.8 1005.8 L1263.9 1004.8 L1265.0 1003.8 L1266.1 1002.7 L1267.2 1001.6 L1268.2 1000.6 L1269.3 999.5 L1270.4 998.4 L1271.4 997.3 L1272.5 996.3 L1273.6 995.3 L1274.7 994.2 L1275.8 993.2 L1277.0 992.3 L1278.1 991.3 L1279.3 990.3 L1280.5 989.4 L1281.6 988.5 L1282.8 987.6 L1284.0 986.7 L1285.2 985.8 L1286.4 984.9 L1287.6 984.0 L1288.8 983.1 L1290.0 982.2 L1291.3 981.3 L1292.5 980.5 L1293.7 979.6 L1294.9 978.7 L1296.1 977.8 L1297.3 976.9 L1298.6 976.1 L1299.8 975.2 L1301.0 974.3 L1302.2 973.4 L1303.5 972.6 L1304.7 971.7 L1305.9 970.9 L1307.1 970.0 L1308.4 969.1 L1309.6 968.3 L1310.9 967.4 L1312.1 966.6 L1313.4 965.8 L1314.6 964.9 L1315.9 964.1 L1317.1 963.3 L1318.4 962.5 L1319.7 961.7 L1320.9 960.9 L1322.2 960.1 L1323.5 959.4 L1324.8 958.6 L1326.1 957.9 L1327.4 957.2 L1328.8 956.6 L1330.1 955.9 L1331.5 955.3 L1332.9 954.8 L1334.3 954.2 L1335.7 953.7 L1337.1 953.3 L1338.5 952.8 L1340.0 952.5 L1341.5 952.1 L1343.0 951.8 L1344.5 951.5 L1345.9 951.2 L1347.4 950.8 L1348.9 950.4 L1350.3 950.0 L1351.6 949.4 L1352.9 948.8 L1354.2 948.0 L1355.4 947.1 L1356.5 946.1 L1357.7 945.1 L1358.8 944.0 L1359.9 942.9 L1361.0 941.9 L1362.1 940.9 L1363.3 939.9 L1364.5 939.0 L1365.7 938.1 L1366.9 937.2 L1368.1 936.3 L1369.2 935.4 L1370.4 934.4 L1371.4 933.3 L1372.4 932.3 L1373.4 931.1 L1374.4 930.0 L1375.4 928.8 L1376.3 927.7 L1377.3 926.5 L1378.2 925.3 L1379.2 924.2 L1380.2 923.1 L1381.3 922.0 L1382.3 920.9 L1383.4 919.9 L1384.5 918.8 L1385.6 917.8 L1386.7 916.7 L1387.8 915.7 L1388.8 914.6 L1389.8 913.5 L1390.8 912.4 L1391.7 911.2 L1392.6 910.0 L1393.5 908.8 L1394.3 907.5 L1395.2 906.3 L1396.0 905.0 L1396.8 903.8 L1397.6 902.5 L1398.5 901.2 L1399.3 900.0 L1400.2 898.8 L1401.0 897.6 L1402.0 896.4 L1402.9 895.2 L1403.9 894.1 L1404.9 893.0 L1405.9 891.9 L1406.9 890.8 L1408.0 889.7 L1409.0 888.6 L1410.1 887.5 L1411.1 886.4 L1412.1 885.3 L1413.1 884.2 L1414.2 883.0 L1415.2 882.0 L1416.3 881.0 L1417.5 880.1 L1418.7 879.3 L1420.0 878.6 L1421.4 878.0 L1422.8 877.5 L1424.2 876.9 L1425.6 876.3 L1427.0 875.6 L1428.3 874.8 L1429.6 874.0 L1430.9 873.2 L1432.2 872.3 L1433.5 871.5 L1434.8 870.7 L1436.0 869.9 L1437.3 869.2 L1438.7 868.7 L1440.0 868.2 L1441.5 867.9 L1442.9 867.8 L1444.4 867.7 L1445.9 867.6 L1447.4 867.6 L1448.9 867.6 L1450.5 867.5 L1452.0 867.4 L1453.5 867.2 L1455.1 866.9 L1456.6 866.6 L1458.1 866.5 L1459.5 866.4 L1461.0 866.5 L1462.4 866.7 L1463.8 867.1 L1465.2 867.6 L1466.6 868.1 L1468.0 868.8 L1469.3 869.5 L1470.7 870.1 L1472.1 870.8 L1473.5 871.4 L1474.9 871.9 L1476.3 872.4 L1477.8 872.8 L1479.2 873.1 L1480.7 873.3 L1482.2 873.5 L1483.7 873.6 L1485.2 873.8 L1486.7 873.9 L1488.2 874.0 L1489.7 874.2 L1491.2 874.4 L1492.7 874.6 L1494.1 874.9 L1495.6 875.2 L1497.1 875.6 L1498.5 876.1 L1499.9 876.5 L1501.4 876.9 L1502.8 877.4 L1504.3 877.7 L1505.7 878.1 L1507.2 878.4 L1508.7 878.6 L1510.2 878.7 L1511.7 878.8 L1513.2 878.8 L1514.7 878.8 L1516.2 878.7 L1517.7 878.5 L1519.2 878.3 L1520.6 878.0 L1522.1 877.7 L1523.6 877.3 L1525.0 876.9 L1526.5 876.5 L1527.9 876.0 L1529.3 875.4 L1530.7 874.8 L1532.1 874.2 L1533.5 873.6 L1534.8 873.0 L1536.2 872.3 L1537.5 871.6 L1538.8 870.9 L1540.0 870.1 L1541.3 869.4 L1542.5 868.6 L1543.8 867.8 L1545.0 867.0 L1546.2 866.1 L1547.4 865.3 L1548.7 864.4 L1549.9 863.5 L1551.1 862.7 L1552.2 861.8 L1553.4 860.9 L1554.6 859.9 L1555.8 859.0 L1557.0 858.1 L1558.2 857.2 L1559.4 856.2 L1560.7 855.3 L1561.9 854.4 L1563.1 853.4 L1564.3 852.5 L1565.6 851.5 L1566.9 850.6 L1568.1 849.8 L1569.4 848.9 L1570.7 848.2 L1572.1 847.5 L1573.4 846.9 L1574.7 846.4 L1576.1 846.0 L1577.5 845.7 L1578.9 845.5 L1580.4 845.5 L1581.8 845.6 L1583.3 845.8 L1584.7 846.2 L1586.2 846.6 L1587.6 847.1 L1589.0 847.8 L1590.4 848.4 L1591.7 849.2 L1593.0 850.0 L1594.3 850.9 L1595.5 851.8 L1596.7 852.8 L1597.8 853.8 L1599.0 854.8 L1600.0 855.8 L1601.1 856.9 L1602.1 858.0 L1603.1 859.2 L1604.1 860.3 L1605.0 861.5 L1605.9 862.7 L1606.8 863.9 L1607.7 865.1 L1608.5 866.4 L1609.3 867.6 L1610.1 868.9 L1610.9 870.2 L1611.7 871.5 L1612.4 872.8 L1613.2 874.1 L1613.9 875.4 L1614.6 876.7 L1615.3 878.0 L1616.0 879.4 L1616.6 880.7 L1617.3 882.1 L1618.0 883.4 L1618.6 884.8 L1619.3 886.1 L1619.9 887.5 L1620.5 888.8 L1621.2 890.2 L1621.8 891.5 L1622.4 892.9 L1623.0 894.3 L1623.6 895.6 L1624.2 897.0 L1624.8 898.4 L1625.4 899.8 L1625.9 901.2 L1626.5 902.5 L1627.1 903.9 L1627.7 905.3 L1628.2 906.7 L1628.8 908.1 L1629.3 909.5 L1629.9 910.9 L1630.4 912.2 L1631.0 913.6 L1631.5 915.0 L1632.1 916.4 L1632.6 917.8 L1633.1 919.2 L1633.7 920.6 L1634.2 922.0 L1634.7 923.4 L1635.3 924.8 L1635.8 926.2 L1636.3 927.6 L1636.8 929.0 L1637.4 930.5 L1637.9 931.9 L1638.4 933.3 L1638.9 934.7 L1639.5 936.1 L1640.0 937.5 L1640.5 938.9 L1641.0 940.3 L1641.6 941.7 L1642.1 943.1 L1642.6 944.5 L1643.1 945.9 L1643.7 947.3 L1644.2 948.7 L1644.8 950.1 L1645.3 951.5 L1645.8 952.9 L1646.4 954.3 L1646.9 955.7 L1647.5 957.1 L1648.0 958.5 L1648.6 959.9 L1649.2 961.3 L1649.7 962.7 L1650.3 964.1 L1650.9 965.5 L1651.5 966.9 L1652.1 968.3 L1652.7 969.7 L1653.3 971.0 L1653.9 972.4 L1654.5 973.8 L1655.1 975.2 L1655.7 976.6 L1656.3 977.9 L1657.0 979.3 L1657.6 980.7 L1658.3 982.0 L1658.9 983.4 L1659.6 984.8 L1660.3 986.1 L1660.9 987.4 L1661.6 988.8 L1662.4 990.1 L1663.1 991.4 L1663.8 992.8 L1664.5 994.1 L1665.3 995.4 L1666.1 996.7 L1666.9 997.9 L1667.7 999.2 L1668.5 1000.5 L1669.3 1001.7 L1670.2 1002.9 L1671.0 1004.2 L1671.9 1005.4 L1672.8 1006.6 L1673.8 1007.7 L1674.7 1008.9 L1675.7 1010.0 L1676.7 1011.1 L1677.7 1012.3 L1678.7 1013.3 L1679.7 1014.4 L1680.8 1015.5 L1681.9 1016.5 L1683.0 1017.5 L1684.2 1018.5 L1685.4 1019.4 L1686.6 1020.4 L1687.8 1021.3 L1689.0 1022.1 L1690.3 1023.0 L1691.5 1023.8 L1692.8 1024.6 L1694.1 1025.3 L1695.5 1026.0 L1696.8 1026.6 L1698.2 1027.2 L1699.6 1027.8 L1700.9 1028.3 L1702.3 1028.7 L1703.8 1029.1 L1705.2 1029.4 L1706.6 1029.7 L1708.1 1029.9 L1709.5 1030.1 L1711.0 1030.2 L1712.5 1030.3 L1713.9 1030.3 L1715.4 1030.2 L1716.9 1030.2 L1718.4 1030.1 L1719.9 1029.9 L1721.4 1029.8 L1723.0 1029.6 L1724.5 1029.4 L1726.0 1029.2 L1727.5 1028.9 L1729.0 1028.7 L1730.6 1028.4 L1732.1 1028.2 L1733.6 1027.9 L1735.1 1027.7 L1736.6 1027.4 L1738.2 1027.2 L1739.7 1027.0 L1741.2 1026.8 L1742.7 1026.6 L1744.2 1026.4 L1745.7 1026.3 L1747.2 1026.1 L1748.7 1026.0 L1750.2 1025.9 L1751.6 1025.8 L1753.1 1025.7 L1754.6 1025.6 L1756.1 1025.4 L1757.5 1025.3 L1759.0 1025.2 L1760.5 1025.1 L1762.0 1025.0 L1763.4 1024.8 L1764.9 1024.7 L1766.4 1024.5 L1767.8 1024.4 L1769.3 1024.2 L1770.7 1023.9 L1772.2 1023.7 L1773.7 1023.4 L1775.1 1023.2 L1776.6 1022.8 L1778.1 1022.5 L1779.5 1022.1 L1781.0 1021.8 L1782.5 1021.4 L1783.9 1020.9 L1785.4 1020.5 L1786.8 1020.1 L1788.3 1019.6 L1789.7 1019.1 L1791.1 1018.6 L1792.6 1018.1 L1794.0 1017.5 L1795.4 1017.0 L1796.8 1016.5 L1798.3 1015.9 L1799.7 1015.3 L1801.0 1014.8 L1802.4 1014.2 L1803.8 1013.6 L1805.2 1013.0 L1806.5 1012.3 L1807.8 1011.7 L1809.2 1011.0 L1810.5 1010.3 L1811.7 1009.6 L1813.0 1008.8 L1814.3 1008.0 L1815.5 1007.2 L1816.7 1006.3 L1817.8 1005.4 L1819.0 1004.5 L1820.1 1003.5 L1821.2 1002.4 L1822.2 1001.3 L1823.3 1000.2 L1824.3 999.1 L1825.4 997.9 L1826.4 996.8 L1827.5 995.7 L1828.6 994.6 L1829.7 993.6 L1830.8 992.6 L1831.9 991.6 L1833.1 990.6 L1834.2 989.6 L1835.3 988.7 L1836.4 987.7 L1837.5 986.6 L1838.5 985.6 L1839.5 984.5 L1840.4 983.3 L1841.4 982.2 L1842.3 981.0 L1843.1 979.8 L1844.0 978.5 L1844.8 977.3 L1845.6 976.0 L1846.4 974.7 L1847.2 973.4 L1848.0 972.1 L1848.8 970.8 L1849.7 969.6 L1850.5 968.3 L1851.3 967.0 L1852.1 965.7 L1852.9 964.5 L1853.7 963.2 L1854.5 961.9 L1855.3 960.7 L1856.1 959.4 L1856.9 958.1 L1857.8 956.9 L1858.6 955.6 L1859.4 954.4 L1860.2 953.1 L1861.0 951.8 L1861.8 950.6 L1862.6 949.3 L1863.4 948.0 L1864.2 946.8 L1865.0 945.5 L1865.8 944.2 L1866.6 943.0 L1867.3 941.7 L1868.1 940.4 L1868.9 939.1 L1869.7 937.8 L1870.4 936.5 L1871.2 935.3 L1871.9 934.0 L1872.7 932.7 L1873.4 931.4 L1874.2 930.1 L1874.9 928.7 L1875.6 927.4 L1876.4 926.1 L1877.1 924.8 L1877.8 923.5 L1878.5 922.2 L1879.2 920.8 L1879.9 919.5 L1880.6 918.2 L1881.3 916.8 L1882.0 915.5 L1882.7 914.1 L1883.3 912.8 L1884.0 911.5 L1884.7 910.1 L1885.3 908.8 L1886.0 907.4 L1886.6 906.0 L1887.3 904.7 L1887.9 903.3 L1888.5 902.0 L1889.1 900.6 L1889.7 899.2 L1890.4 897.8 L1891.0 896.5 L1891.6 895.1 L1892.1 893.7 L1892.7 892.3 L1893.3 890.9 L1893.9 889.5 L1894.4 888.2 L1895.0 886.8 L1895.6 885.4 L1896.1 884.0 L1896.6 882.6 L1897.2 881.2 L1897.7 879.8 L1898.2 878.4 L1898.7 876.9 L1899.2 875.5 L1899.7 874.1 L1900.2 872.7 L1900.7 871.3 L1901.2 869.9 L1901.7 868.4 L1902.1 867.0 L1902.6 865.6 L1903.1 864.2 L1903.5 862.7 L1904.0 861.3 L1904.4 859.9 L1904.9 858.4 L1905.3 857.0 L1905.7 855.6 L1906.2 854.1 L1906.6 852.7 L1907.0 851.3 L1907.4 849.8 L1907.8 848.4 L1908.2 846.9 L1908.6 845.5 L1909.0 844.0 L1909.4 842.6 L1909.8 841.1 L1910.2 839.7 L1910.6 838.2 L1910.9 836.8 L1911.3 835.3 L1911.7 833.9 L1912.1 832.4 L1912.4 831.0 L1912.8 829.5 L1913.2 828.0 L1913.5 826.6 L1913.9 825.1 L1914.2 823.7 L1914.6 822.2 L1914.9 820.7 L1915.3 819.3 L1915.6 817.8 L1915.9 816.3 L1916.3 814.9 L1916.6 813.4 L1917.0 812.0 L1917.3 810.5 L1917.6 809.0 L1918.0 807.6 L1918.3 806.1 L1918.6 804.6 L1918.9 803.2 L1919.3 801.7 L1919.6 800.2 L1919.9 798.8 L1920.2 797.3 L1920.6 795.8 L1920.9 794.4 L1921.2 792.9 L1921.5 791.4 L1921.8 790.0 L1922.1 788.5 L1922.5 787.0 L1922.8 785.5 L1923.1 784.1 L1923.4 782.6 L1923.7 781.1 L1924.0 779.7 L1924.3 778.2 L1924.6 776.7 L1925.0 775.3 L1925.3 773.8 L1925.6 772.3 L1925.9 770.8 L1926.2 769.4 L1926.5 767.9 L1926.8 766.4 L1927.1 765.0 L1927.4 763.5 L1927.7 762.0 L1928.0 760.6 L1928.3 759.1 L1928.6 757.6 L1928.9 756.1 L1929.2 754.7 L1929.5 753.2 L1929.8 751.7 L1930.1 750.3 L1930.4 748.8 L1930.7 747.3 L1931.0 745.8 L1931.3 744.4 L1931.7 742.9 L1932.0 741.4 L1932.3 740.0 L1932.6 738.5 L1932.9 737.0 L1933.2 735.6 L1933.5 734.1 L1933.8 732.6 L1934.1 731.1 L1934.4 729.7 L1934.7 728.2 L1935.0 726.7 L1935.3 725.3 L1935.6 723.8 L1935.9 722.3 L1936.3 720.9 L1936.6 719.4 L1936.9 717.9 L1937.2 716.5 L1937.5 715.0 L1937.8 713.5 L1938.1 712.1 L1938.5 710.6 L1938.8 709.1 L1939.1 707.7 L1939.4 706.2 L1939.7 704.7 L1940.1 703.3 L1940.4 701.8 L1940.7 700.4 L1941.0 698.9 L1941.4 697.4 L1941.7 696.0 L1942.0 694.5 L1942.4 693.0 L1942.7 691.6 L1943.0 690.1 L1943.4 688.7 L1943.7 687.2 L1944.0 685.7 L1944.4 684.3 L1944.7 682.8 L1945.1 681.4 L1945.4 679.9 L1945.8 678.5 L1946.2 677.0 L1946.5 675.6 L1946.9 674.1 L1947.3 672.6 L1947.7 671.2 L1948.0 669.7 L1948.4 668.3 L1948.8 666.8 L1949.2 665.4 L1949.6 663.9 L1950.0 662.5 L1950.4 661.0 L1950.8 659.6 L1951.2 658.2 L1951.7 656.7 L1952.1 655.3 L1952.5 653.8 L1953.0 652.4 L1953.4 650.9 L1953.9 649.5 L1954.3 648.1 L1954.8 646.6 L1955.3 645.2 L1955.7 643.8 L1956.2 642.3 L1956.8 640.9 L1957.3 639.5 L1957.9 638.1 L1958.5 636.7 L1959.1 635.3 L1959.7 634.0 L1960.4 632.6 L1961.1 631.3 L1961.9 630.0 L1962.6 628.7 L1963.5 627.5 L1964.4 626.2 L1965.3 625.0 L1966.2 623.8 L1967.3 622.8 L1968.4 622.1 L1969.5 621.9 L1970.8 622.2 L1972.1 623.0 L1973.3 624.0 L1974.5 625.1 L1975.6 626.3 L1976.6 627.5 L1977.5 628.7 L1978.4 630.0 L1979.2 631.3 L1979.9 632.6 L1980.6 633.9 L1981.2 635.3 L1981.8 636.7 L1982.4 638.1 L1982.9 639.5 L1983.4 640.9 L1983.9 642.3 L1984.3 643.8 L1984.8 645.2 L1985.2 646.6 L1985.6 648.1 L1986.0 649.5 L1986.4 651.0 L1986.8 652.4 L1987.2 653.9 L1987.6 655.3 L1988.0 656.8 L1988.4 658.2 L1988.7 659.7 L1989.1 661.1 L1989.5 662.6 L1989.8 664.1 L1990.2 665.5 L1990.5 667.0 L1990.9 668.4 L1991.2 669.9 L1991.5 671.4 L1991.9 672.8 L1992.2 674.3 L1992.5 675.7 L1992.8 677.2 L1993.1 678.7 L1993.5 680.1 L1993.8 681.6 L1994.1 683.1 L1994.4 684.5 L1994.7 686.0 L1995.0 687.5 L1995.3 689.0 L1995.6 690.4 L1995.9 691.9 L1996.2 693.4 L1996.5 694.8 L1996.7 696.3 L1997.0 697.8 L1997.3 699.3 L1997.6 700.7 L1997.9 702.2 L1998.2 703.7 L1998.4 705.2 L1998.7 706.6 L1999.0 708.1 L1999.3 709.6 L1999.5 711.1 L1999.8 712.5 L2000.1 714.0 L2000.3 715.5 L2000.6 717.0 L2000.9 718.5 L2001.1 719.9 L2001.4 721.4 L2001.7 722.9 L2001.9 724.4 L2002.2 725.8 L2002.5 727.3 L2002.7 728.8 L2003.0 730.3 L2003.3 731.8 L2003.5 733.2 L2003.8 734.7 L2004.1 736.2 L2004.3 737.7 L2004.6 739.2 L2004.9 740.6 L2005.1 742.1 L2005.4 743.6 L2005.7 745.1 L2005.9 746.5 L2006.2 748.0 L2006.5 749.5 L2006.7 751.0 L2007.0 752.5 L2007.2 753.9 L2007.5 755.4 L2007.8 756.9 L2008.0 758.4 L2008.3 759.8 L2008.6 761.3 L2008.8 762.8 L2009.1 764.3 L2009.4 765.8 L2009.6 767.2 L2009.9 768.7 L2010.2 770.2 L2010.4 771.7 L2010.7 773.1 L2011.0 774.6 L2011.2 776.1 L2011.5 777.6 L2011.8 779.0 L2012.1 780.5 L2012.3 782.0 L2012.6 783.5 L2012.9 785.0 L2013.1 786.4 L2013.4 787.9 L2013.7 789.4 L2014.0 790.9 L2014.2 792.3 L2014.5 793.8 L2014.8 795.3 L2015.1 796.8 L2015.3 798.2 L2015.6 799.7 L2015.9 801.2 L2016.2 802.6 L2016.5 804.1 L2016.8 805.6 L2017.0 807.1 L2017.3 808.5 L2017.6 810.0 L2017.9 811.5 L2018.2 813.0 L2018.5 814.4 L2018.8 815.9 L2019.1 817.4 L2019.3 818.8 L2019.6 820.3 L2019.9 821.8 L2020.2 823.2 L2020.5 824.7 L2020.8 826.2 L2021.1 827.7 L2021.4 829.1 L2021.8 830.6 L2022.1 832.1 L2022.4 833.5 L2022.7 835.0 L2023.0 836.5 L2023.3 837.9 L2023.7 839.4 L2024.0 840.8 L2024.3 842.3 L2024.7 843.8 L2025.0 845.2 L2025.3 846.7 L2025.7 848.2 L2026.0 849.6 L2026.4 851.1 L2026.8 852.5 L2027.1 854.0 L2027.5 855.5 L2027.9 856.9 L2028.2 858.4 L2028.6 859.8 L2029.0 861.3 L2029.4 862.7 L2029.8 864.2 L2030.2 865.6 L2030.6 867.1 L2031.0 868.6 L2031.4 870.0 L2031.8 871.4 L2032.2 872.9 L2032.6 874.3 L2033.0 875.8 L2033.4 877.2 L2033.8 878.7 L2034.2 880.1 L2034.6 881.5 L2035.1 883.0 L2035.5 884.4 L2035.9 885.9 L2036.3 887.3 L2036.7 888.7 L2037.1 890.1 L2037.6 891.6 L2038.0 893.0 L2038.4 894.4 L2038.9 895.9 L2039.3 897.3 L2039.8 898.7 L2040.2 900.1 L2040.7 901.5 L2041.2 903.0 L2041.7 904.4 L2042.1 905.8 L2042.6 907.2 L2043.1 908.6 L2043.6 910.1 L2044.2 911.5 L2044.7 912.9 L2045.2 914.3 L2045.8 915.7 L2046.3 917.1 L2046.9 918.5 L2047.5 919.9 L2048.1 921.3 L2048.7 922.7 L2049.4 924.1 L2050.0 925.5 L2050.7 926.8 L2051.4 928.2 L2052.1 929.5 L2052.8 930.9 L2053.5 932.2 L2054.3 933.4 L2055.1 934.7 L2055.9 936.0 L2056.7 937.2 L2057.6 938.4 L2058.5 939.6 L2059.4 940.8 L2060.3 941.9 L2061.3 943.0 L2062.3 944.1 L2063.3 945.2 L2064.4 946.2 L2065.5 947.2 L2066.6 948.2 L2067.8 949.1 L2068.9 950.0 L2070.2 950.9 L2071.4 951.8 L2072.7 952.6 L2073.9 953.4 L2075.2 954.2 L2076.5 955.0 L2077.8 955.9 L2079.1 956.7 L2080.4 957.5 L2081.6 958.3 L2082.9 959.1 L2084.2 960.0 L2085.4 960.8 L2086.6 961.7 L2087.8 962.7 L2088.9 963.6 L2090.1 964.6 L2091.2 965.6 L2092.2 966.6 L2093.3 967.7 L2094.3 968.7 L2095.3 969.8 L2096.3 970.9 L2097.3 972.0 L2098.2 973.2 L2099.2 974.4 L2100.1 975.5 L2101.0 976.7 L2101.9 978.0 L2102.7 979.2 L2103.6 980.4 L2104.4 981.7 L2105.2 982.9 L2106.0 984.2 L2106.9 985.5 L2107.6 986.8 L2108.4 988.1 L2109.2 989.4 L2110.0 990.7 L2110.7 992.0 L2111.5 993.3 L2112.2 994.6 L2113.0 996.0 L2113.7 997.3 L2114.4 998.6 L2115.2 999.9 L2115.9 1001.3 L2116.6 1002.6 L2117.4 1003.9 L2118.1 1005.2 L2118.8 1006.5 L2119.6 1007.9 L2120.3 1009.2 L2121.0 1010.5 L2121.8 1011.8 L2122.5 1013.1 L2123.3 1014.4 L2124.0 1015.7 L2124.8 1017.0 L2125.5 1018.3 L2126.3 1019.5 L2127.1 1020.8 L2127.9 1022.1 L2128.7 1023.3 L2129.5 1024.6 L2130.3 1025.8 L2131.1 1027.1 L2132.0 1028.3 L2132.8 1029.5 L2133.7 1030.8 L2134.5 1032.0 L2135.4 1033.2 L2136.3 1034.3 L2137.2 1035.5 L2138.1 1036.7 L2139.1 1037.9 L2140.0 1039.0 L2141.0 1040.2 L2142.0 1041.3 L2142.9 1042.4 L2143.9 1043.5 L2144.9 1044.7 L2146.0 1045.8 L2147.0 1046.8 L2148.0 1047.9 L2149.1 1049.0 L2150.2 1050.1 L2151.2 1051.1 L2152.3 1052.1 L2153.4 1053.2 L2154.6 1054.2 L2155.7 1055.2 L2156.8 1056.2 L2158.0 1057.2 L2159.1 1058.2 L2160.3 1059.2 L2161.5 1060.1 L2162.6 1061.1 L2163.9 1062.0 L2165.1 1062.9 L2166.3 1063.7 L2167.6 1064.5 L2168.9 1065.2 L2170.2 1065.9 L2171.6 1066.4 L2172.9 1067.0 L2174.3 1067.4 L2175.8 1067.8 L2177.2 1068.1 L2178.7 1068.3 L2180.2 1068.5 L2181.7 1068.7 L2183.2 1068.9 L2184.7 1069.0 L2186.2 1069.1 L2187.8 1069.1 L2189.3 1069.2 L2190.8 1069.3 L2192.3 1069.4 L2193.9 1069.5 L2195.4 1069.6 L2196.8 1069.7 L2198.3 1069.9 L2199.8 1070.1 L2201.2 1070.3 L2202.6 1070.6" fill="none" stroke="#d41159" stroke-width="4.6" stroke-linejoin="round" stroke-linecap="butt"/>
<g stroke="#000" stroke-width="3" fill="none">
<path d="M232.5 179.3 V1102.85"/>
<path d="M231.0 1101.35 H2349.5"/>
<path d="M232.5 1070.5 h-20.3"/>
<path d="M232.5 783.5 h-20.3"/>
<path d="M232.5 497.5 h-20.3"/>
<path d="M232.5 211.5 h-20.3"/>
<path d="M264.5 1101.35 v20.3"/>
<path d="M777.5 1101.35 v20.3"/>
<path d="M1290.5 1101.35 v20.3"/>
<path d="M1804.5 1101.35 v20.3"/>
<path d="M2317.5 1101.35 v20.3"/>
</g>
<text x="202.6" y="1088.1" font-size="50" text-anchor="end">0</text>
<text x="202.6" y="801.1" font-size="50" text-anchor="end">5</text>
<text x="202.6" y="515.1" font-size="50" text-anchor="end">10</text>
<text x="202.6" y="229.1" font-size="50" text-anchor="end">15</text>
<text x="264.5" y="1166.8" font-size="50" text-anchor="middle">.2</text>
<text x="777.5" y="1166.8" font-size="50" text-anchor="middle">.4</text>
<text x="1290.5" y="1166.8" font-size="50" text-anchor="middle">.6</text>
<text x="1804.5" y="1166.8" font-size="50" text-anchor="middle">.8</text>
<text x="2317.5" y="1166.8" font-size="50" text-anchor="middle">1</text>
<text x="1291" y="97.2" font-size="55" text-anchor="middle">Overlap of Propensity Scores</text>
<text x="1291.5" y="165.1" font-size="40" text-anchor="middle">Required for valid causal comparison</text>
<text x="1291.3" y="1237" font-size="50" text-anchor="middle">Propensity score for mbsmoke = Nonsmoker</text>
<text transform="translate(95.5 640.8) rotate(-90)" font-size="50" text-anchor="middle">Density</text>
<path d="M714 1325.4 H828.6" stroke="#1a85ff" stroke-width="4.8"/>
<text x="858.4" y="1343.2" font-size="50.1">Non-smokers (D=0)</text>
<path d="M1376.3 1325.4 H1492.4" stroke="#d41159" stroke-width="4.8"/>
<text x="1521" y="1343.2" font-size="50.2">Smokers (D=1)</text>
</svg></body></html>
